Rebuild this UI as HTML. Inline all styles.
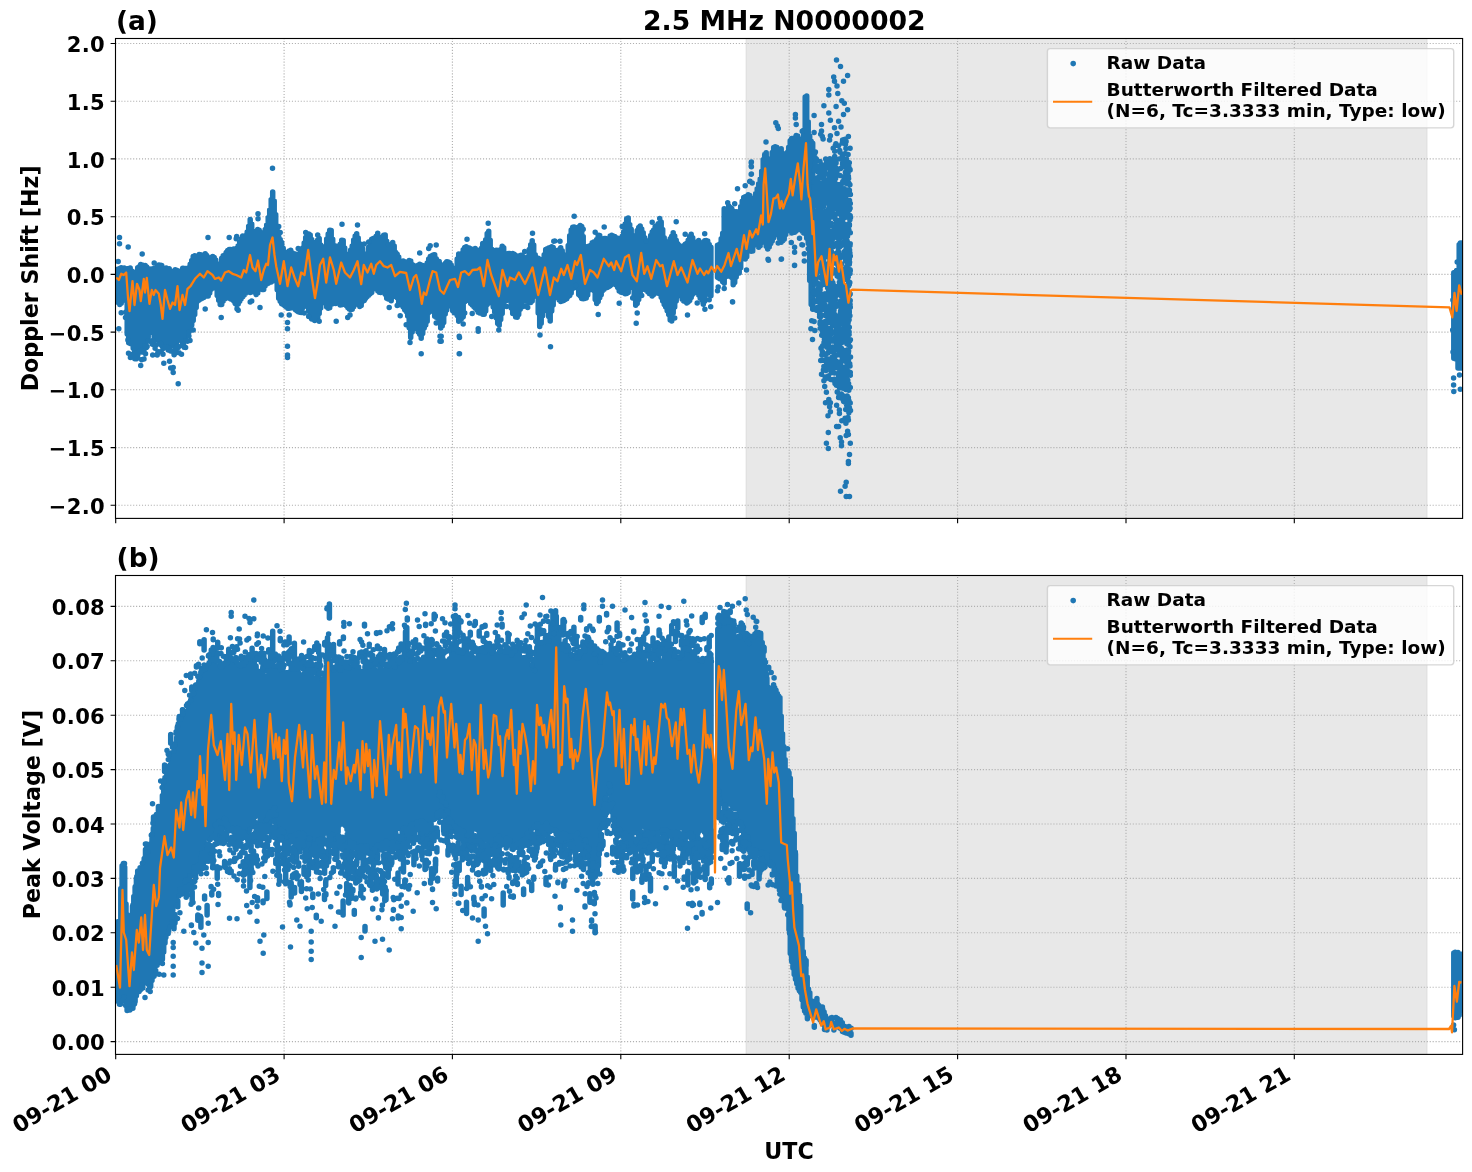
<!DOCTYPE html>
<html lang="en"><head><meta charset="utf-8"><title>2.5 MHz N0000002</title>
<style>html,body{margin:0;padding:0;background:#fff}svg{display:block}</style></head>
<body>
<svg width="1472" height="1172" viewBox="0 0 1472 1172" font-family="'DejaVu Sans', 'Liberation Sans', sans-serif" font-weight="bold" fill="#000">
<defs><clipPath id="ca"><rect x="115.5" y="38.5" width="1347.1" height="479.9"/></clipPath><clipPath id="cb"><rect x="115.5" y="575.5" width="1347.1" height="478.9000000000001"/></clipPath></defs>
<rect width="1472" height="1172" fill="#fff"/>
<g id="panel-a"><rect x="746.2" y="38.5" width="680.7" height="479.9" fill="#e8e8e8"/><path d="M746.2 38.5V518.4M1426.9 38.5V518.4" stroke="#dcdcdc" stroke-width="1" fill="none"/><path d="M284.1 518.4V38.5M452.4 518.4V38.5M620.8 518.4V38.5M789.2 518.4V38.5M957.6 518.4V38.5M1126 518.4V38.5M1294.3 518.4V38.5M115.5 43.5H1462.6M115.5 101.2H1462.6M115.5 158.9H1462.6M115.5 216.7H1462.6M115.5 274.4H1462.6M115.5 332.1H1462.6M115.5 389.8H1462.6M115.5 447.6H1462.6M115.5 505.3H1462.6" stroke="#b0b0b0" stroke-width="1.11" stroke-dasharray="1.11 1.83" fill="none"/><g clip-path="url(#ca)" fill="none" stroke-linecap="round" stroke-linejoin="round"><path d="M118.2 268.9V302.5M119.7 268.5V304.6M121.2 267.8V303.2M122.7 268.8V300.6M124.2 268.1V285.3M125.7 268.9V298.8M127.2 268.8V333.9M128.7 268.5V342.8M130.2 268V343.5M131.7 271.1V341.6M133.2 277.8V348.3M134.7 278V352.4M136.2 271.7V350.3M137.7 267.7V350.5M139.2 266.7V349.2M140.7 264.6V349.6M142.2 265.1V348.2M143.7 266.1V345.9M145.2 265.4V344.5M146.7 267V341.2M148.2 268.8V337.3M149.7 269.6V332.3M151.2 269V331.1M152.7 269.1V332.7M154.2 268.3V336.9M155.7 268.5V338.4M157.2 267.1V339M158.7 265V341.5M160.2 265.3V342M161.7 265.6V343.2M163.2 268.7V344M164.7 269.1V345.4M166.2 267.9V346M167.7 269.1V346.5M169.2 268.7V346M170.7 271V346M172.2 272.4V345.9M173.7 272.7V344.8M175.2 269.7V343.6M176.7 270.2V342.4M178.2 275.7V338.3M179.7 275.4V338.5M181.2 270.7V340.6M182.7 268.2V341.5M184.2 268.5V340M185.7 268.6V336.9M187.2 268.5V329.4M188.7 267.8V323.3M190.2 264.2V329.1M191.7 260.4V325.2M193.2 256.4V320.4M194.7 255.8V314.6M196.2 256.4V307.6M197.7 257.3V300.9M199.2 254.5V300.1M200.7 254.8V299.1M202.2 255.8V298.3M203.7 255.9V297.5M205.2 253.8V295.1M206.7 255.4V295.9M208.2 261.4V296.1M209.7 262.8V293M211.2 257.4V289.3M212.7 256.4V285.6M214.2 257.5V286.5M215.7 260.1V288M217.2 268.1V295.4M218.7 268.7V300.3M220.2 263.5V304.4M221.7 258.2V304.5M223.2 255.8V300.9M224.7 255.1V299.1M226.2 252.6V296.5M227.7 250.5V295.6M229.2 249.5V298.2M230.7 249.6V299.1M232.2 249.7V299.6M233.7 249V300.9M235.2 249.6V303.4M236.7 248.3V304.8M238.2 245.7V304M239.7 242.1V301.2M241.2 238.8V298.8M242.7 236.1V296.7M244.2 237.1V295.1M245.7 235.6V293.2M247.2 232.1V292.2M248.7 226.3V291.1M250.2 219.6V292.5M251.7 223.9V291.7M253.2 231.8V291.3M254.7 232.6V292.3M256.2 231.6V294.5M257.7 229.4V292.9M259.2 230.3V286.2M260.7 232.6V284.8M262.2 236.6V289.4M263.7 233.6V289.6M265.2 229.4V285.8M266.7 224.9V284.1M268.2 217.6V283.2M269.7 210V281.7M271.2 199.6V282M272.7 191.9V281.1M274.2 201.1V276M275.7 214.5V278.1M277.2 230V289.8M278.7 236.5V298.3M280.2 239.6V301.3M281.7 242.6V303.7M283.2 248.3V304.4M284.7 251.9V305.7M286.2 252.8V306.7M287.7 253.1V308.3M289.2 250.9V308.2M290.7 250.2V307.9M292.2 252.7V306.9M293.7 254V306.7M295.2 254.1V309.4M296.7 255.4V310.8M298.2 254.4V311.7M299.7 253.3V312.2M301.2 250.5V312.4M302.7 248.1V307.7M304.2 242.9V302.3M305.7 237.6V301.7M307.2 235.9V306.6M308.7 234V311.3M310.2 234.9V315.9M311.7 239.4V318.9M313.2 245.3V319M314.7 244.4V320.6M316.2 242.2V319.5M317.7 240.1V317.9M319.2 238.6V313.5M320.7 244.9V307.9M322.2 254.4V299.1M323.7 258.1V297.9M325.2 246.5V303.1M326.7 239.1V307M328.2 234V308.2M329.7 230.2V307.8M331.2 230.4V304.3M332.7 239.2V303.7M334.2 245.4V303M335.7 246.1V303.5M337.2 247.8V301.9M338.7 250.1V301.8M340.2 244.2V305.1M341.7 240.2V304.8M343.2 240.6V303.2M344.7 248V304.1M346.2 258V305.4M347.7 259.1V307.6M349.2 254V309.1M350.7 249.9V309.7M352.2 245.9V309.3M353.7 240.1V306.7M355.2 236.1V303.3M356.7 233.8V301.9M358.2 237.9V304.4M359.7 243.8V306.5M361.2 246.3V305.6M362.7 248.4V301.2M364.2 255.9V300.6M365.7 258.3V298.2M367.2 253.7V296.5M368.7 247.3V295.2M370.2 243.6V293.8M371.7 239.2V292.6M373.2 238.6V288.2M374.7 240.2V286.5M376.2 236.2V288.9M377.7 233.3V290.8M379.2 237.1V292.3M380.7 239.9V292.4M382.2 238.2V289.1M383.7 235.3V289.4M385.2 235.1V294.3M386.7 241.3V298.2M388.2 251.4V299.1M389.7 251.7V299M391.2 246.1V300.8M392.7 242.6V296.8M394.2 246.1V290.2M395.7 252.4V289.2M397.2 254.3V297.7M398.7 257V303.9M400.2 263.1V304.7M401.7 264.5V304.8M403.2 261V306.9M404.7 261.7V309.7M406.2 263.3V311.4M407.7 264.3V316M409.2 260.4V327.8M410.7 260.9V337.4M412.2 264.4V331.9M413.7 266.5V327.5M415.2 265.9V325.7M416.7 266.1V328.7M418.2 265.2V332.1M419.7 264.2V334.2M421.2 265.3V338.3M422.7 265.4V333.6M424.2 266.5V328M425.7 266.4V325.1M427.2 263V321.2M428.7 259.1V312.4M430.2 256.6V302.8M431.7 255.8V302.9M433.2 255.1V311.4M434.7 254.7V316.2M436.2 258.7V317.2M437.7 262.2V318.3M439.2 261.4V320.2M440.7 264.7V328M442.2 266.7V326.1M443.7 267.1V322.6M445.2 263.6V314.1M446.7 261.8V310.1M448.2 261.9V299.8M449.7 262.8V294.7M451.2 265.1V306.3M452.7 267.9V310.7M454.2 272.5V312.7M455.7 270V311.1M457.2 259.1V315.5M458.7 253.9V321.2M460.2 254.6V320.3M461.7 253.6V318.4M463.2 249.8V316.8M464.7 247.5V301.7M466.2 246.8V298.6M467.7 248.1V299.6M469.2 248.1V300.7M470.7 248.8V303.4M472.2 250.5V305M473.7 249.6V306.4M475.2 248.6V308.2M476.7 250.3V309.8M478.2 255.5V312.3M479.7 255.4V313.1M481.2 248.6V313.2M482.7 243.4V314.3M484.2 243.2V314.3M485.7 239.8V311.1M487.2 233.5V304.4M488.7 231.2V299.8M490.2 240.2V297.2M491.7 249.2V302.9M493.2 254.1V307M494.7 252.9V312.3M496.2 250.2V317.7M497.7 250.6V323.5M499.2 251.4V325.2M500.7 249.6V319.5M502.2 246.2V313.4M503.7 247.8V306.3M505.2 253.7V300.9M506.7 255.7V300.4M508.2 253.6V296.6M509.7 253.4V299.6M511.2 253.9V308.1M512.7 253.6V313.6M514.2 254.3V313.2M515.7 255.4V317M517.2 256.2V317.3M518.7 256.1V314.4M520.2 255.6V309.2M521.7 255.3V304.1M523.2 256.5V300.8M524.7 259.3V300.8M526.2 261.1V298.7M527.7 257.3V299.6M529.2 249.6V302.8M530.7 244.8V302.6M532.2 240.7V301M533.7 245.1V295.7M535.2 254.7V288.9M536.7 257.9V296.5M538.2 258.3V313M539.7 259.3V326.4M541.2 264.4V323.3M542.7 262.9V315.8M544.2 254.7V309M545.7 249.5V306.6M547.2 248.8V310.8M548.7 247.9V316.4M550.2 247.7V320.9M551.7 246.8V310.9M553.2 247.5V305M554.7 249.9V297.3M556.2 254.5V296.1M557.7 255V298M559.2 249.7V299.9M560.7 247.7V301.5M562.2 250.8V301M563.7 254.8V300.5M565.2 263.3V299.5M566.7 258.4V298.7M568.2 245.5V296.5M569.7 235.8V295.5M571.2 230.1V292.9M572.7 227.3V288.4M574.2 226.9V277.7M575.7 231.2V277.9M577.2 230.5V288.1M578.7 226.9V294.4M580.2 225.4V296M581.7 226.4V298.4M583.2 236.4V298.8M584.7 247.2V298.4M586.2 247.2V298M587.7 246.5V295M589.2 247.7V289.9M590.7 245.3V287.9M592.2 242.7V288.1M593.7 242.1V290.6M595.2 242.6V299.4M596.7 239.5V303.4M598.2 235.3V301.4M599.7 235.6V297.7M601.2 239V294.8M602.7 242.3V290.5M604.2 238.5V289.3M605.7 238.4V287.8M607.2 239.2V287.6M608.7 238.5V286.7M610.2 236.1V285.7M611.7 235.2V284.6M613.2 235.9V282.4M614.7 236.5V282.3M616.2 238.7V285M617.7 238.2V287.6M619.2 239.2V290.9M620.7 238.4V292.1M622.2 236.3V292.5M623.7 231.8V292.2M625.2 224V293.7M626.7 218.7V293.6M628.2 218.1V292.6M629.7 224.6V287.7M631.2 229.2V282.6M632.7 235.6V286.7M634.2 237.4V296.8M635.7 236V305.2M637.2 230.5V303.4M638.7 227.4V299.6M640.2 226V292.9M641.7 229V288.9M643.2 232.8V288.7M644.7 237.7V289.5M646.2 247.9V290.3M647.7 250.2V291.7M649.2 240.9V293.4M650.7 235.4V294.2M652.2 232.1V295.9M653.7 229.9V294.5M655.2 226.6V290.9M656.7 225.7V290.8M658.2 223.8V293.3M659.7 223.8V293.4M661.2 222.1V297.2M662.7 229.6V301.1M664.2 237.8V304.4M665.7 245V307.1M667.2 245.3V310.8M668.7 241.5V314.5M670.2 238.7V320.1M671.7 236.2V321M673.2 232.7V313.1M674.7 235.9V306.9M676.2 240.3V301.1M677.7 243.7V296M679.2 245.4V293.6M680.7 248.2V294.7M682.2 247.6V299.3M683.7 245.8V300.9M685.2 244.2V301.4M686.7 243.2V303.1M688.2 240.3V302M689.7 236.4V300.4M691.2 234.2V297.5M692.7 237.7V294.3M694.2 245.6V292.7M695.7 247.6V291.3M697.2 241.9V293M698.7 240.5V295.1M700.2 244.1V298.3M701.7 244.2V300.1M703.2 242.4V302.8M704.7 240.7V301.2M706.2 240.6V291.2M707.7 241.1V288.9M709.2 244.5V294.6M710.7 248.1V295.3M718.2 246.8V277.7M719.7 244V278.7M721.2 238.7V278M722.7 233.3V281.7M724.2 208.8V283.2M725.7 213.4V276.8M727.2 211.3V273.4M728.7 206V276M730.2 207.4V273.5M731.7 208.4V277.4M733.2 211.1V284.8M734.7 212.7V282.5M736.2 211.7V277.1M737.7 211.9V273.3M739.2 211.5V272.9M740.7 206.6V267.8M742.2 201.2V257.8M743.7 197.5V255.3M745.2 196.7V259.1M746.7 196.7V256.8M748.2 194.7V247.3M749.7 195.5V245.6M751.2 198V251.3M752.7 199.5V251.1M754.2 200.2V241.6M755.7 193.5V239.7M757.2 188.7V245.2M758.7 183.8V247.2M760.2 178.9V245.7M761.7 171.2V242.4M763.2 159.5V241M764.7 154.5V242.3M766.2 152.7V246.2M767.7 158.7V249M769.2 169.4V247.1M770.7 169.3V243.6M772.2 152.6V241M773.7 147.6V237.8M775.2 146.7V235M776.7 147.3V231.9M778.2 150V233.3M779.7 151.2V238.8M781.2 148.8V242.2M782.7 153.6V240.8M784.2 160.2V239.2M785.7 159V234.5M787.2 152.6V226M788.7 147.3V225.7M790.2 140.8V231M791.7 138.4V233.1M793.2 138.9V232.6M794.7 137.7V232.2M796.2 135.5V230.9M797.7 136V229.5M799.2 138.7V228.6M800.7 139.4V229.7M802.2 140.5V231.2M803.7 130.2V233M805.2 97.1V233.6M806.7 95.9V238.3M808.2 121.8V243.6M809.7 136.1V280.4M811.2 141.2V304.4M812.7 143.2V309.2M710.9 247.2V295.7M717.5 245.3V277.2M1453.8 272.8V358.2M1455.2 274.6V358.8M1456.6 270.5V358.3M1458 273.5V368M1459.2 244.6V368M1460.4 242.9V368M1461.8 243V368" stroke="#1f77b4" stroke-width="5.5"/><path d="M119.5 237.5h0M119.5 243.8h0M128.2 247h0M118.8 328.8h0M208 237.5h0M229.2 237.5h0M236.2 238.8h0M258 213.8h0M258 218.8h0M272.5 168.2h0M342 224.2h0M357.5 225h0M436.2 245h0M163.8 363.2h0M173.2 367.5h0M173.2 372.5h0M178.2 383.8h0M169.5 361.2h0M190 340.5h0M193.2 330h0M221.2 317.5h0M237 308.8h0M260 307.5h0M281.2 315h0M287.5 322.5h0M287.5 328.8h0M287.5 346.2h0M287.5 355h0M287.5 357.5h0M336.2 321.2h0M350 315h0M389.2 307.5h0M421.2 353.8h0M441.2 336.2h0M441.2 341.2h0M459.2 353.8h0M459.2 336.2h0M410 342.5h0M467 239.2h0M488.2 223.2h0M532.5 233.2h0M553.8 241.2h0M560 241.2h0M574.2 216.2h0M676.2 221.8h0M440 336.2h0M440 341.2h0M459.5 337.5h0M459.5 353.8h0M478.2 328.8h0M478.2 331.2h0M540 335h0M550.5 346.8h0M636.2 323.2h0M687.5 315h0M732.5 301.8h0M498.8 330h0M737.5 188.8h0M751.2 162.5h0M751.2 166.2h0M751.2 174.2h0M750 181.2h0M768 259.2h0M781.2 259.2h0M794.5 265.5h0M802.5 245h0M727.7 202.7h0M737.5 188.8h0M751.4 161.9h0M751.4 166.8h0M751.4 174.1h0M749.7 181.5h0M752.2 183.1h0M766 142h0M775.8 122.8h0M777.4 126h0M778.3 128.5h0M795.4 114.6h0M795.4 117.9h0M796.2 124.4h0M814.1 115.4h0M814.1 132.6h0M821.5 124.4h0M821.5 130.9h0M822.3 136.6h0M823.9 105.7h0M828.8 89.4h0M828.8 95.1h0M828.8 113h0M830.4 120.3h0M833.7 77.1h0M834.5 81.2h0M836.5 60h0M840.5 66.5h0M843.5 81.2h0M847.6 75.5h0M837 86.1h0M837.8 93.4h0M841.8 100.8h0M844.3 103.2h0M847.6 109.7h0M843.5 114.6h0M836.1 106.5h0M838.6 121.2h0M841 126.9h0M834.5 127.7h0M837 133.4h0M848.4 136.6h0M830.4 135.8h0M829.6 139.9h0M835.3 145.6h0M820.7 134.2h0M823.1 139.1h0M704.9 309.2h0M703.3 304.3h0M732.6 301.9h0M746.5 270.1h0M768.5 260.3h0M781.5 259h0M791.3 242.4h0M794.6 247.3h0M794.6 252.2h0M794.6 265.2h0M804.3 253.8h0M804.3 261.1h0M811.7 320.7h0M810.9 328.8h0M812.5 339.4h0M814.1 321.5h0M814.9 330.4h0M799.5 238.3h0M801.9 244.8h0M828.3 432.4h0M826.4 443.2h0M828.3 448.4h0M840.2 437.8h0M841.5 441.9h0M841.5 445.7h0M838.6 426.4h0M836.6 426.4h0M847.6 431.3h0M848.4 434.6h0M846.2 435.4h0M850.3 443.2h0M849.5 454.5h0M848.4 461.5h0M848.4 463.4h0M846.2 482.3h0M845.1 486.2h0M840.5 491.3h0M846.2 496.5h0M849.5 496.5h0M826.4 392.2h0M828.8 399.5h0M825.5 402.8h0M830.4 402.8h0M829.6 406.8h0M830.4 411.7h0M828 415.8h0M836.6 405.2h0M839.4 410.1h0M839.4 413.4h0M846.7 405.2h0M848.4 410.1h0M845.1 418.3h0M841.8 420.7h0M848.4 419.9h0M845.9 423.2h0M820.7 360.4h0M821.5 374.2h0M823.9 380.8h0M824.7 386.5h0M118.2 261.4h0M121.2 312.7h0M123.7 298.1h0M125.7 312.2h0M125.5 317.5h0M127.9 340.1h0M128.5 353.3h0M130.6 355.9h0M130.4 357.4h0M131 354.9h0M131.9 355.9h0M133.4 355.7h0M132.5 354.3h0M134.8 358.7h0M134.9 354.8h0M135.6 353.6h0M136.7 358.8h0M137.8 358.1h0M137.9 354.5h0M139.2 351.4h0M140.8 350.5h0M140.7 365.4h0M141.7 359.7h0M141.9 351.9h0M142.2 253.9h0M144 358.9h0M144 351.5h0M145 345.7h0M145.5 353.8h0M147.1 346.6h0M146.4 347.6h0M147.9 341h0M150.2 341.1h0M149.3 341.1h0M151.7 342.5h0M152.4 344.2h0M152.9 340.6h0M152.7 354.9h0M153.7 342.2h0M154.2 263h0M155.1 348.2h0M155.5 345.5h0M157.8 352.8h0M157.2 354.9h0M158.9 351.7h0M160.6 343.5h0M159.9 344.3h0M161.5 351.7h0M162.3 346.4h0M163.1 348.5h0M163 354.2h0M165.1 346.7h0M166.2 346.8h0M168.2 349.9h0M168.3 349.1h0M169.4 348.6h0M169.6 348.4h0M170.6 351h0M170.7 368h0M172 351.3h0M174.1 354.8h0M173.5 352.6h0M174.7 353.8h0M175.6 349.2h0M176.3 347.1h0M177.8 346.2h0M178.2 347.6h0M179.1 352.8h0M181.5 354.2h0M182.5 345.6h0M182.6 344.4h0M183.7 345.4h0M184.1 347.2h0M185.6 347.5h0M186 340.7h0M187.4 341.3h0M189.1 331.7h0M188.9 335.9h0M205.2 309h0M236.7 236.6h0M238.2 310.3h0M250.2 301.9h0M251.7 301.1h0M278.7 226.4h0M280.2 232.5h0M289.2 314.9h0M298.2 248.6h0M304.2 313.1h0M305.7 232.6h0M308.7 316.5h0M317.7 235h0M319.2 321.3h0M347.7 317.6h0M364.2 243.9h0M368.7 242h0M388.2 244.6h0M397.2 305.6h0M400.2 315.8h0M406.2 324.8h0M419.7 253h0M428.7 248.4h0M430.2 245.8h0M436.2 323h0M463.2 324.1h0M464.7 313h0M472.2 313.6h0M491.7 316.6h0M506.7 306.6h0M523.2 306.4h0M524.7 251.6h0M526.2 305.7h0M527.7 307.6h0M554.7 240.9h0M575.7 285.5h0M583.2 229.3h0M595.2 232.2h0M598.2 314.6h0M604.2 227h0M619.2 303.3h0M622.2 226.6h0M632.7 298h0M637.2 313h0M641.7 295.5h0M646.2 240.7h0M652.2 222.3h0M659.7 218.5h0M674.7 318.1h0M685.2 234.3h0M697.2 303.1h0M704.7 233.7h0M709.2 299.7h0M710.7 306.7h0M718.2 287.1h0M724.2 288.5h0M734.7 203.7h0M745.2 185.8h0M778.2 243h0M802.2 131.2h0M808.2 248.8h0M814.7 258.1h0M814 301.7h0M814.8 167.5h0M813.7 276.7h0M814 279.7h0M813.7 222.1h0M814.8 284.3h0M813.6 244.9h0M813.8 197.5h0M813.5 292.5h0M814.2 170.7h0M814 239.2h0M813.5 201.6h0M814 239.5h0M813.7 308h0M813.9 255h0M814.2 188.1h0M814.3 186.2h0M814.9 230.9h0M814.3 309h0M814.6 271.8h0M814.4 248.6h0M813.9 203.2h0M814.6 193.2h0M814.2 266.5h0M814 249h0M814.1 234.7h0M813.9 152.3h0M813.8 203.9h0M813.7 181.6h0M814.1 218.3h0M813.9 237.8h0M813.9 170.5h0M814.5 194h0M814.9 234.8h0M814.8 199.4h0M813.6 240.2h0M816.4 242.5h0M816.1 206.1h0M816.3 217.7h0M816.3 159.1h0M815.3 193h0M815.4 151.9h0M815.3 262.6h0M815.3 213.1h0M816.2 246.1h0M815.2 253.4h0M816.4 267.4h0M815.1 245.8h0M815.2 203.6h0M816.3 178.7h0M816.3 252.1h0M816.1 182.6h0M815.6 253.6h0M815.5 258.5h0M815 157.5h0M815.5 249.9h0M815.8 228.5h0M815 189.9h0M815.9 308.6h0M815.4 265.8h0M815.2 163.3h0M816.2 272.8h0M815.8 216.9h0M815.8 243.8h0M815.9 255h0M816.1 201.9h0M816.1 190h0M816.1 274.2h0M815.7 193.3h0M815 301h0M815.9 225.4h0M816.4 273.9h0M815.1 185.2h0M815 152.7h0M816.7 240.3h0M816.7 301.4h0M817.8 180.2h0M817.6 177.8h0M817.4 231.3h0M817.7 206.7h0M816.9 225.2h0M817.6 295.6h0M817.7 215.9h0M817.8 217.2h0M816.8 187.7h0M816.8 221h0M817.4 184.3h0M817.9 199.5h0M816.7 186.5h0M817.6 194.5h0M816.9 282.8h0M817.8 229.2h0M817.3 177.7h0M817.3 224h0M817.8 292.4h0M817.6 209.3h0M817.7 289.3h0M816.5 310.2h0M817.5 167.5h0M817.8 166.4h0M817.8 265.9h0M816.8 307.7h0M816.5 277.9h0M816.8 232.3h0M816.6 220.5h0M819.3 309.8h0M818.2 172.1h0M818.2 220.9h0M818.2 261.5h0M818.1 269.9h0M818.7 209h0M818.3 298.4h0M818.4 268.8h0M818.1 181.1h0M818.8 217.6h0M818 210.4h0M818.9 262h0M818.8 239.1h0M819.4 262.3h0M818.4 216.2h0M819.4 219.4h0M818.5 214.3h0M818.2 217.9h0M818.9 311h0M818.9 299.6h0M818.3 212.7h0M819.2 184.4h0M818.9 204.4h0M818.4 239.9h0M819.1 306.8h0M818.8 288.1h0M818.9 310.5h0M819 270.7h0M818.7 215.3h0M819 250h0M818.9 204h0M818.3 239h0M818.3 250h0M819 296.9h0M818.7 235.7h0M820.2 257h0M820.7 256.7h0M819.7 199.9h0M820.4 314.7h0M820 323.8h0M819.6 316.7h0M819.6 183.2h0M820.7 223.1h0M820.1 255.5h0M820.9 170.2h0M820.1 289.7h0M820.6 247.1h0M819.7 302.3h0M820 286.8h0M819.8 255.4h0M820 225.9h0M819.5 227.9h0M819.5 192.4h0M819.9 188h0M819.8 216.7h0M820.4 317.1h0M820.1 322h0M820 308.9h0M820 161.5h0M819.9 293.2h0M820.4 233.2h0M820 312.5h0M820.8 266.8h0M820 293.1h0M819.9 283.9h0M820.2 227.6h0M820.8 250.7h0M819.5 301.9h0M820.1 269.6h0M820.7 243.9h0M820.2 234.6h0M820.2 328.2h0M820.7 253.6h0M820.6 284.9h0M819.5 232h0M820.3 286.7h0M820.6 304.3h0M819.6 176.1h0M819.6 313.9h0M820.3 301.2h0M822 297.4h0M821 255.2h0M821.6 299.6h0M822.4 276.8h0M821.2 326.4h0M821.7 223.6h0M821.3 210.9h0M821.3 219.1h0M821.7 335.3h0M821 241.9h0M822.3 217.2h0M821.3 323.2h0M821 195.4h0M821.5 266.7h0M821.7 251.3h0M821.5 276.7h0M821.3 323.1h0M821 348.2h0M821.7 219.3h0M821.8 239.5h0M821.4 221.3h0M821.4 322h0M822.2 303.7h0M821.6 278.5h0M822.3 351.5h0M821.9 164.7h0M821.8 190.7h0M821.7 323h0M822 295.9h0M821.3 215.2h0M822.3 331h0M821.1 196.4h0M821.9 354.9h0M822.3 207.2h0M821.2 298.5h0M821.3 214.9h0M821.4 276.4h0M821.2 271.8h0M822.2 346.6h0M822.4 184.7h0M821 235.8h0M821.9 233.3h0M821.8 199.9h0M822 172.3h0M822 243.9h0M822.9 360.3h0M823.6 229.1h0M823.8 262h0M823.7 172.5h0M823.3 284.5h0M822.9 171.5h0M823.8 202.3h0M823.9 366.5h0M822.5 297.5h0M823.1 225.8h0M823.6 206.8h0M822.9 191.5h0M822.6 167.3h0M823.6 274.2h0M823.1 284h0M822.6 173.4h0M823 280.1h0M823.4 235h0M823.9 188.2h0M823.7 225.4h0M822.7 345.7h0M823.3 177.8h0M822.7 177.9h0M823.2 270.7h0M822.7 233.3h0M822.8 241.4h0M823.8 180.1h0M823.8 263.2h0M823.6 260.2h0M823.5 278.4h0M823.6 202.7h0M822.5 186h0M823.2 239.1h0M823.8 216.6h0M822.8 170.6h0M823.6 283.9h0M822.5 309.6h0M823.3 206.4h0M823.4 370h0M823.7 305.4h0M823.7 227.8h0M823.8 254.3h0M823.1 243.3h0M823.6 171.4h0M822.7 302.5h0M822.7 228.3h0M822.8 195.8h0M823.9 225.3h0M824.7 332.1h0M825.1 264.9h0M824.2 296.7h0M825.2 294.1h0M824.1 331h0M824.5 315.2h0M825.1 305h0M825.2 321.5h0M824.8 334.6h0M825.2 250.8h0M825.3 330.5h0M825.4 219.6h0M825.4 272.8h0M824.3 331.2h0M824.2 342.8h0M824.3 255.9h0M825.3 263.9h0M825 307.9h0M825.1 240.9h0M825 332.6h0M824.1 244.1h0M825.2 300.4h0M824.8 228.9h0M824 342.4h0M824 263.1h0M824.9 247h0M824.5 255.8h0M824.5 200.2h0M824.4 344.2h0M825 171.5h0M824.9 252.3h0M824.1 335.7h0M824 307.3h0M824.4 339.3h0M824.3 370.1h0M825.3 354.6h0M824.7 241.4h0M825.2 377.1h0M824 188.4h0M824.6 191.4h0M824.3 336.2h0M824.1 231.8h0M825.2 277.6h0M824.5 268.7h0M824.1 303.5h0M824.6 293.9h0M824.9 370.1h0M826.2 238.4h0M826.8 308.4h0M826 266.9h0M826.7 378.2h0M826.3 310h0M826.6 255.1h0M826.6 358.4h0M825.7 159h0M826.3 184.5h0M826.6 161.7h0M825.9 300.2h0M825.9 328.4h0M826.1 277.6h0M826.5 338.3h0M826.9 239.5h0M826.5 316.1h0M825.7 215.5h0M826.7 284.8h0M826 335.7h0M826.8 183.4h0M825.7 188.6h0M825.5 223.5h0M826 220.2h0M825.9 194.4h0M825.9 370.6h0M825.6 252.9h0M826 211.5h0M826.9 240.6h0M825.8 213h0M826.7 362.5h0M826.6 299.2h0M825.7 224.2h0M826.2 327.2h0M826.5 281h0M825.9 326.1h0M826.8 235.3h0M825.9 274.1h0M825.8 297.6h0M825.5 330.5h0M826 343.4h0M825.8 369.7h0M826.6 167.1h0M826.1 308.8h0M825.6 339h0M826.4 222.3h0M826.6 312h0M826.9 242.7h0M826 323.8h0M826.7 242.3h0M825.7 232.3h0M826.2 353.8h0M826.8 306.7h0M825.5 182h0M828.2 268.2h0M827.8 307.1h0M827.8 245.1h0M828.2 214.6h0M828.2 335.5h0M828.1 185.8h0M828.3 267.9h0M828.3 343.1h0M828 181.2h0M827.4 294.1h0M827.3 343.9h0M827.1 202.9h0M828.4 309.1h0M827.5 338.7h0M827.1 314.6h0M827 347.2h0M827.2 298.1h0M827 214.9h0M827.8 255h0M827 339.9h0M827.3 344.6h0M827.5 298.1h0M827.8 228.1h0M828.1 201.5h0M828.2 199.4h0M827.8 340.2h0M827 249.9h0M828 298.3h0M827.6 287.7h0M827.8 270.6h0M828.3 203.5h0M828.4 376.1h0M827.2 167.1h0M828 256.9h0M827.6 316.7h0M827.2 230.6h0M827.4 244.9h0M828.1 196h0M827.6 271.6h0M828 196.8h0M827.3 196.5h0M828 281.9h0M828 320h0M827 165.1h0M827.9 353.1h0M827.5 212.3h0M828.4 188.8h0M827 222.1h0M828.3 191.5h0M827.6 339.2h0M827.2 174.3h0M829.9 261.2h0M829.7 262.4h0M829.3 180h0M828.8 269.9h0M828.5 209.3h0M829.5 253h0M829.7 240.6h0M828.5 348.9h0M829.3 200.3h0M828.5 239.3h0M829.1 346.3h0M828.6 276.1h0M829.4 226.2h0M829.4 359.3h0M828.8 198.3h0M828.6 364.1h0M828.6 289.6h0M829.1 196.9h0M829.4 288.3h0M829.1 317.1h0M829.1 162.3h0M829.5 309h0M829.4 206.4h0M829.2 313.5h0M828.5 291.5h0M829.9 206.1h0M829 203.8h0M829.7 336.3h0M829.6 299.7h0M829.9 158.7h0M828.5 339.7h0M829.8 161.1h0M829.5 201.6h0M828.7 367.3h0M828.7 317.8h0M828.7 340.8h0M828.6 270.9h0M829.8 336h0M829.7 366.6h0M829.7 281.3h0M829.4 268.6h0M829.6 290.4h0M829.3 168h0M829 218.5h0M829.1 341.8h0M828.8 178.5h0M828.6 251.2h0M830.5 278.9h0M830.1 351.6h0M830.4 236.1h0M830.2 330.7h0M831.4 293.3h0M830 332.2h0M831 166.1h0M830.7 291.5h0M830.6 257.2h0M830.9 294.4h0M831.3 338.9h0M830 348.6h0M831.2 311.2h0M831.3 251.3h0M831.4 191.2h0M831 253.9h0M830.4 208.6h0M830.4 231.6h0M831.4 170.8h0M831.3 304.7h0M831.2 330.7h0M830.3 213.8h0M830 246.9h0M831.3 203.4h0M831.1 368.6h0M831.3 333.7h0M830.7 338.4h0M830.9 223.2h0M830.8 236h0M830.7 379.4h0M830.8 303.7h0M831.3 372.7h0M831.4 313.3h0M830.4 169.6h0M830.3 365.2h0M831.4 319.5h0M831 190.3h0M831.1 313.5h0M830.3 328.5h0M830 209.7h0M830.3 313.6h0M831.4 210.2h0M830.8 302.2h0M830.8 305.2h0M830.4 314.5h0M830 163.4h0M830.2 234.7h0M831.4 175.1h0M830.4 312.8h0M830.2 332.4h0M830.6 172.1h0M830.6 313.2h0M830.1 322.5h0M831.2 371.4h0M832.7 347.2h0M832.5 340.9h0M831.5 213.7h0M832.8 192.4h0M832.3 184.7h0M831.7 306.6h0M832.9 181.2h0M832.4 239.2h0M831.8 284.4h0M832.7 162.1h0M832.5 234.5h0M831.8 179.9h0M832.2 235.1h0M832.6 173.4h0M832 215.5h0M831.8 331.7h0M831.8 193.4h0M832 239.5h0M832.2 301.8h0M832.4 357.1h0M831.5 349.1h0M831.6 252.6h0M832.5 257.8h0M832.2 169.1h0M832.1 188.5h0M832 175.1h0M832.9 260.1h0M831.6 280.8h0M832.6 200.3h0M832.8 282.8h0M831.8 273.6h0M831.8 187.7h0M832.8 166.5h0M832.5 258.1h0M831.9 164.4h0M832.4 196.1h0M831.6 233.9h0M831.5 190h0M832.2 304.6h0M832.3 325.8h0M832.2 203.1h0M832.4 293h0M832.9 181.5h0M832.7 325.8h0M832.8 235.5h0M831.8 190.4h0M832.8 291.3h0M831.5 166.3h0M831.7 252.8h0M832.6 192.8h0M832.9 287.7h0M832.5 243.8h0M832.2 202.9h0M832.9 270.4h0M834.2 196.1h0M834.4 192.6h0M833.3 255.5h0M833.6 380.2h0M834 227.5h0M833.2 148.3h0M833 347.3h0M833.3 292.8h0M833.8 254.9h0M833.2 318.6h0M833.1 202.1h0M833.2 380h0M833.8 271.7h0M833.3 361.8h0M833.6 184h0M834.3 243.7h0M834.2 306.2h0M834.4 379.2h0M833 243.4h0M833 368.8h0M833.4 214.2h0M833.7 246.5h0M833.9 352.5h0M833.1 269.4h0M833.9 202.9h0M834.2 287.6h0M833.1 190.3h0M833.2 364.5h0M833.3 313.7h0M833.5 201.1h0M834 272.1h0M833.7 297h0M834.1 308.8h0M834 310.2h0M833.2 302.7h0M833.6 200.2h0M833.6 379.4h0M834.1 200.1h0M833.9 231.6h0M833.1 332.2h0M833.3 197.7h0M833 208.4h0M833.6 176.3h0M834.4 161.9h0M833.5 285.3h0M833.6 316.8h0M833.7 186h0M834.4 182.4h0M834.2 332.2h0M833.9 301.4h0M834.4 316.9h0M834.1 191.2h0M833.3 217h0M835.7 290.4h0M834.7 359.5h0M834.9 321.8h0M834.7 156.5h0M834.5 314.3h0M834.8 196.9h0M835.9 318.1h0M835.9 143.8h0M835 383.4h0M834.9 270.6h0M835.2 244.1h0M834.5 204.1h0M834.6 160h0M835.5 296.2h0M835.6 205.2h0M835 322.6h0M834.7 262.9h0M834.5 373.1h0M835 177.7h0M834.8 319.6h0M835.7 339.8h0M834.7 162.6h0M835.7 317.3h0M834.8 338.3h0M835.3 162.4h0M835.3 173.7h0M834.8 166.1h0M835.1 204.1h0M835.5 273.3h0M834.9 194.6h0M835.5 300.2h0M835.8 293.8h0M834.9 190.5h0M834.8 305.9h0M835.6 178.6h0M835.5 347.3h0M834.9 217h0M834.5 320.7h0M834.6 292.5h0M834.7 151.3h0M834.7 255.3h0M835.2 169h0M835.5 230.4h0M835.6 272.3h0M835 165.7h0M834.8 260.8h0M834.8 307.4h0M835.2 219.1h0M835.6 318.4h0M835.1 232.6h0M834.6 294.9h0M835.4 253.8h0M834.5 209.1h0M835.4 171.4h0M834.6 214.5h0M836.6 336.5h0M836.1 163h0M836.4 385.3h0M836.2 335.7h0M836.2 168.3h0M837.2 276h0M836.2 184.1h0M836.6 335h0M836.1 226.9h0M837.4 202.8h0M837.1 170.9h0M837.4 261h0M836.4 294.2h0M837 259.1h0M836.1 327.1h0M837.4 190.4h0M836.3 227.1h0M836.7 205.9h0M837.2 392.1h0M836.2 222.7h0M836.5 329.9h0M836.6 188.8h0M837.2 349.3h0M836 286.9h0M836.9 334.6h0M837.2 224.1h0M836.3 348.6h0M836.5 233.9h0M836.5 230.7h0M837.3 169.2h0M836.9 245.3h0M836.3 366h0M837.2 332.4h0M836.9 205.4h0M837.2 237.7h0M836.5 175.1h0M836.5 349.1h0M837.3 355h0M837 329.7h0M836 306.5h0M836.6 361.6h0M837.1 227.2h0M837.3 339.4h0M836.5 195.5h0M836.1 204.4h0M836 224.1h0M836.3 343h0M837.1 159.2h0M836.6 191.6h0M837.2 243.1h0M836.9 382.9h0M837.3 367.8h0M836.4 327.1h0M836.1 362.6h0M837.2 290.1h0M836.7 272.6h0M837.8 367.9h0M838 236.3h0M838.5 254.1h0M837.6 253.3h0M838.7 277.3h0M838 344.6h0M838.6 200.8h0M837.8 347.9h0M838 254.4h0M838.8 324.6h0M837.9 195.5h0M838.5 227.9h0M838.3 191.8h0M838.5 271.4h0M837.7 346.2h0M838.6 375.4h0M838.8 364.8h0M837.5 197h0M838.8 271.9h0M838.8 274h0M837.7 286.5h0M838.7 304.6h0M838.4 251.9h0M837.9 210.1h0M838.2 251h0M837.6 263.2h0M838.5 145.8h0M837.8 334.3h0M838.2 209.2h0M838.4 188.9h0M838.3 373.9h0M838.6 327.3h0M838.5 325.1h0M838.7 213.5h0M838.9 379.2h0M837.6 256.7h0M837.7 316.4h0M838.4 261.1h0M838.6 397.6h0M837.7 206.6h0M838.4 185.3h0M837.7 221.3h0M837.6 199.8h0M837.9 193.4h0M837.7 272.4h0M838.1 266.1h0M837.7 384.2h0M837.7 294.6h0M837.6 187.3h0M838.9 322.4h0M838 246.8h0M838 252.3h0M838 319.7h0M839 365.8h0M839.5 362h0M840.3 305.6h0M839.6 246.9h0M839.8 220.3h0M840.1 314h0M839.5 387.7h0M839.8 362.5h0M839.5 317.7h0M839.6 386.5h0M839.1 190.5h0M839.7 150.5h0M839.5 271h0M839.7 373.7h0M839.4 266.2h0M839.9 243.1h0M839.3 345.7h0M839.5 238.9h0M840.3 236.9h0M839.4 282.2h0M840.2 229.1h0M839 184.8h0M839 193.3h0M839.2 350.7h0M839 202.2h0M840.1 211.4h0M840.3 328.7h0M840.3 387.1h0M839.2 255.2h0M840.2 335.9h0M839.1 242.8h0M839.8 368h0M839 394.7h0M840 175.6h0M839.1 305.6h0M839.9 185.3h0M840.4 316.5h0M840.4 236.3h0M839.5 255.3h0M839.3 208.7h0M839.2 325.1h0M839.2 189.9h0M840.1 233.9h0M840 158.8h0M840.1 152.2h0M839.6 291.6h0M839.5 370.2h0M840.4 245.4h0M839.2 287.8h0M839.5 188.6h0M839 321.2h0M840.1 349.8h0M839 276h0M839.6 348.8h0M839.8 315.7h0M839.6 330.9h0M839.4 382.4h0M841.8 211.8h0M841.6 348.4h0M841.9 356h0M840.9 321.2h0M840.8 339.4h0M840.7 301.1h0M840.9 365.5h0M841.8 382.6h0M840.7 339.2h0M841.3 340.3h0M841.1 378.5h0M841.6 385.3h0M840.6 168.5h0M841.5 369.1h0M841.5 208.6h0M840.6 311h0M841.5 270.5h0M841.4 197.6h0M841 214.2h0M841.7 290.9h0M841.1 339.6h0M841.9 367.1h0M840.6 265h0M840.7 337.2h0M840.5 319h0M840.6 334.9h0M841 307.9h0M841.7 206.6h0M841.1 374.8h0M841.5 264.1h0M841 332h0M840.7 385.1h0M840.6 354.3h0M841.2 190.2h0M840.7 229.4h0M841.6 384.4h0M841.8 206.9h0M841.8 199.4h0M841.9 301.6h0M841.4 342.9h0M841.7 280.8h0M840.6 257.4h0M841.6 319.7h0M841.1 202.2h0M841.9 356.5h0M841.5 382.6h0M841.1 286.3h0M840.7 185.4h0M841.2 264.4h0M841 211.5h0M841.6 286.3h0M840.7 295.5h0M841.9 372.9h0M841.3 397.9h0M841.3 394h0M840.5 223.6h0M840.6 195h0M841.4 215.8h0M843.4 235.7h0M842.8 307.7h0M842.5 368.3h0M842.4 299.9h0M843.4 396.5h0M842.8 156.7h0M842.7 194.2h0M843 317h0M843 319.4h0M842.6 140.1h0M842.8 396.5h0M843.2 378.9h0M842.2 143.1h0M842.1 360.2h0M843.3 386.7h0M842.4 276.3h0M843 395.8h0M843.1 399.7h0M842.2 211.3h0M842.9 236.2h0M842.2 312.8h0M842.8 332.1h0M843.3 234.8h0M842.2 207.2h0M842.8 181.5h0M842.2 351.9h0M842.8 272.9h0M842.6 288.2h0M842 283.7h0M842.3 155h0M842.3 340.2h0M842.3 358h0M842.5 164.2h0M843.1 228.6h0M843 198.5h0M842.6 360.9h0M843.3 273h0M842.2 299.7h0M842.4 158h0M842.6 163.2h0M842.7 221.4h0M842.2 387.9h0M842.4 220.6h0M842.6 380.8h0M842 183.6h0M842.2 311.4h0M842 305.3h0M842.5 274h0M843 166.8h0M842.2 275h0M842.6 317.1h0M842.1 314.9h0M842.3 378.9h0M842.2 245.2h0M843.4 162.9h0M842.3 228.4h0M842.3 317.4h0M844.1 324.5h0M844.3 180.6h0M844.2 165.5h0M844.5 191h0M844.7 272.4h0M844.9 217.4h0M844.2 358.5h0M843.6 176.7h0M844.5 323.7h0M844.9 294.7h0M843.6 354.8h0M843.5 225.5h0M844.5 296h0M844.5 232.5h0M844.5 237.6h0M844.9 213.4h0M843.5 256.8h0M843.7 372.1h0M843.6 374.1h0M844.5 241.3h0M844 139.6h0M844.8 224.5h0M844.7 350.8h0M844.9 297.4h0M844.9 312.5h0M843.7 291.4h0M844.2 278.7h0M844 229.7h0M844.3 276.4h0M843.9 198.7h0M844.2 274.4h0M844.4 251.7h0M844.2 188.7h0M844.6 213.1h0M844.6 328.6h0M843.8 278.3h0M844 388.5h0M844.1 217h0M844.7 329.9h0M844.5 268.9h0M844.1 196.1h0M843.9 235.2h0M844.6 235.6h0M843.8 336.6h0M844.6 201.7h0M844.5 315.3h0M844.5 310.1h0M843.5 212.2h0M843.5 236h0M844.9 319.6h0M843.8 355.8h0M843.6 229.6h0M844.6 353.4h0M844 270.3h0M844.2 211.4h0M844.8 330.9h0M844.1 367.8h0M843.9 252.3h0M843.7 401.6h0M844.8 214.4h0M844.7 368.8h0M845.2 256.5h0M845.5 351.9h0M845.5 259.9h0M845.3 302.9h0M845.5 144.2h0M846.1 141.6h0M846 230.5h0M845.2 311h0M845.4 307.2h0M846.2 193.8h0M845.8 389.6h0M845.4 297.2h0M845.9 148.6h0M845.7 304.7h0M845.4 172.3h0M845.5 253.5h0M846.4 387.6h0M846.2 204.9h0M845.8 205.8h0M845 242.7h0M846.2 358.4h0M846.1 212.9h0M846.4 270.8h0M845.3 153.6h0M846.1 311.1h0M845.8 371h0M846.1 245.5h0M846.1 167.5h0M846.4 260.2h0M845.3 163.7h0M845.1 139.2h0M845.6 240.4h0M845.4 278.7h0M845.7 332.3h0M845.7 409.6h0M845.5 274.9h0M846.3 376.3h0M845.5 237.3h0M845.8 308.3h0M845.1 217h0M845.1 402.3h0M845.7 319.8h0M845.4 229h0M845.5 371.8h0M846.4 253.8h0M845.6 238.2h0M845.9 183.3h0M845.6 322.1h0M845.3 250.6h0M845.6 356.6h0M845.5 368.2h0M845 341.1h0M846.4 199.2h0M846 326.9h0M845.7 275.8h0M845.2 193.1h0M846 316.7h0M845.9 210h0M845.2 176.2h0M845.4 279.2h0M845.2 290.6h0M845.9 272h0M846 175.8h0M845.9 289.3h0M845.8 353.9h0M847.7 262.8h0M847.6 297.6h0M847.1 240.9h0M846.6 321.7h0M846.5 310.2h0M846.9 342.7h0M846.7 375.6h0M847.2 370.6h0M847.7 262.1h0M847.2 331.6h0M847.8 380.3h0M846.5 233.8h0M846.5 233.2h0M846.6 159.2h0M846.9 183.7h0M847.8 217h0M846.9 361.7h0M846.8 343.8h0M847.4 293.5h0M847.5 380.2h0M847.6 268.8h0M846.7 266.6h0M847.6 406.6h0M846.8 371.6h0M847 333.5h0M846.8 201.7h0M847.2 405.9h0M846.5 279.3h0M847.6 349.8h0M846.8 384.1h0M847.5 236.2h0M847.1 323.1h0M846.7 285.8h0M847.2 396h0M846.7 359.2h0M847 341.1h0M846.6 366.3h0M847.4 216.2h0M847 274h0M846.8 300.9h0M846.5 261.4h0M846.8 362.5h0M847.3 371.4h0M847.4 307.3h0M846.9 174.1h0M847.5 380.4h0M847.1 367.1h0M847.9 327.4h0M846.6 191.9h0M847.2 254.3h0M847.7 180.7h0M846.7 247.6h0M847.3 190.2h0M847.2 192.2h0M847.1 289.5h0M847.7 279.9h0M846.5 194.8h0M847.3 353.7h0M846.8 289.5h0M846.9 357.5h0M846.8 342.4h0M848.5 320.9h0M848 274.1h0M849 319.5h0M848.8 183.2h0M848.1 344.5h0M849.3 374h0M848.1 154.6h0M848.1 210.8h0M848.3 276.7h0M848.6 224h0M849.1 243.9h0M848.1 341.6h0M848 202.7h0M848.1 232.2h0M849.1 334.5h0M848 417.6h0M848.6 351.1h0M848.4 399.6h0M848.6 283h0M849.1 262.1h0M848.7 371.7h0M848.6 190.1h0M848.9 388.5h0M848.6 296.3h0M848.3 300.5h0M849.2 295.6h0M849.3 162.8h0M848.9 412.7h0M849.2 316.4h0M848.1 271.3h0M849 224.1h0M848.3 343.2h0M848.9 319.3h0M848 323.6h0M848.4 263.4h0M848.5 306.7h0M848.4 176.2h0M848.4 360.5h0M849.2 292.4h0M848.1 172.7h0M849 401h0M848.2 243.1h0M848.7 250.4h0M848.1 256h0M848.4 286h0M848.6 409.7h0M849.4 204h0M848.9 230.1h0M848.5 372.2h0M848.4 350.7h0M848.6 171h0M848.6 383.7h0M848.4 352.8h0M848.7 183h0M849.4 258.9h0M848.8 390.2h0M848 256.3h0M849.3 264.2h0M848.8 224.8h0M848 338.2h0M848.4 397.7h0M848 339.7h0M848.1 245h0M848 272.2h0M848.1 182.6h0M848.7 165.7h0M848.6 178.6h0M717.5 290.7h0M850.3 307.2h0M850 169.4h0M850.1 304.5h0M849.7 218.6h0M849.7 193.3h0M849.9 219.7h0M849.4 224.5h0M849.1 319.7h0M849.7 363.7h0M849.2 205h0M849.8 282.6h0M849.6 341h0M850.3 255.9h0M850.5 217.5h0M850.2 403h0M849.3 311.2h0M849.8 366h0M849.4 190.2h0M849.3 312.4h0M850.1 269.8h0M849.2 168.2h0M850 273.4h0M849.1 332.1h0M850.4 194.6h0M849.6 250h0M850 245.4h0M850 346.8h0M849.9 253.1h0M849.3 284.5h0M850.5 357.1h0M850.3 270.6h0M850.1 208.3h0M850.4 339.8h0M850.3 372.6h0M850.2 215.8h0M849.5 273.3h0M850.2 243.7h0M850.3 375.2h0M849.3 327.2h0M849.9 184.7h0M849.5 200.4h0M850.1 170h0M850.3 203.6h0M850.3 232.8h0M849.4 225.5h0M849 251h0M849.6 262.3h0M849 245.6h0M849.4 407.8h0M850.1 148.3h0M849.8 302.9h0M849.4 209.8h0M850.5 410.5h0M850.3 387.4h0M850 366h0M850.2 294h0M849.8 184.4h0M849.6 215.3h0M850.1 194.6h0M850.2 300.4h0M849.9 315.7h0M1453.6 378h0M1453.6 385h0M1453.8 391.5h0M1460.3 389.3h0M1459.5 375h0M1452.9 300h0M1452.7 330h0M1453 352h0M1457.2 262h0" stroke="#1f77b4" stroke-width="5.5"/><path d="M116.2 277.5L118.8 280L121.2 273.8L123.8 275L126.2 272.5L128 297.5L129.5 311.2L132.5 281.2L134.5 305L137 283.8L139.5 290L140.8 301.2L143.8 278.8L145 292.5L146.8 278L149.5 303.8L151.8 290L153.8 295L155.5 290L158.8 293.8L160.8 305L162.5 318.8L165 290L167.5 300L170 308.8L172.5 302.5L175 305L177.5 286.2L179.5 310L182.5 295L185 305L187.5 288.8L190.5 286.2L195 278.8L200 273.8L203.8 277.5L207.5 271.2L212.5 275L215 278.8L218.8 277.5L221.2 280.5L225 272.5L228.8 271.2L232.5 273.8L236.2 275L241.2 277.5L243.8 270L246.2 272.5L250 255L252.5 267.5L255.5 271.2L258 260.5L261.2 280L263.8 270L266.2 263.8L268 265L270 245L272.5 237.5L274.5 255L276.2 266.2L280 283.8L283.8 261.2L287.5 286.2L291.2 267.5L295 278.8L298.2 286.2L301.2 272.5L304.5 275L308.2 250L311.2 273.8L315 298L318 280L320 265L323.2 258.8L326.2 282.5L330 257.5L333.8 270L336.2 283.8L341.2 262.5L345 272.5L350 277.5L353.8 270L357.5 261.2L361.2 284.2L363.8 265L367.5 272.5L371.2 263.8L373.8 273.8L376.2 265L380 261.2L383.8 266.2L387.5 267.5L391.2 265L395 276.2L400 271.8L406.2 273L410 290L413.8 277.5L416.2 275L418.8 285L421.8 303.8L423.8 292.5L426.2 295L430 280L432.5 271.2L436.2 272.5L440 290L443.8 293.8L450 280L455 278.8L458 287L461.2 272.5L465 271.2L468.8 275L472.5 270L477.5 269.5L480 267.5L483.8 286.2L487.5 260L491.2 275L498.8 296.2L502.5 270L507.5 286.2L510 277.5L515 280L518.8 272.5L525 283.8L532.5 267.5L538.2 295L545 267.5L550 295L553.8 277.5L557.5 281.2L561.2 268.8L563.8 275L567.5 265L571.2 278.8L575 261.2L577 265L580.8 255L585 283.8L590 270L593.8 272.5L597.5 277.5L603.8 258.8L608.8 266.2L611.2 262.5L614.2 270L616.2 261.2L621.2 271.2L625 257.5L628.8 255L632.5 275L636.8 281.2L641.2 253L644.2 273.8L647.5 266.2L651.2 278.8L656.2 260L660 266.2L662.5 265L667 286.2L673.8 261.2L677.5 275L681.2 267.5L687.5 282.5L692.5 260L697.5 273.8L700 268.5L704.1 275L706.5 270.9L708.2 273.4L711.4 266.8L714.7 271.7L717.1 266L721.2 271.7L724.5 265.2L728.5 253L731 266L736.7 248.9L739.9 261.1L744 235.1L746.5 248.9L749.7 231L752.2 237.5L756.2 229.3L757.9 234.2L761.1 215.5L762.8 224.5L763.6 184.7L765.2 168.4L766.8 192.9L768.5 222.2L770.9 214.1L773.4 198.6L775.8 197.8L777.9 194.5L779.9 208.4L781.5 201L783.2 208.4L785.6 201L788.9 193.7L790.8 179L792.6 195.3L795.4 176.6L797.8 163.5L800.3 184.7L801.4 199.4L803.5 168.4L806 143.2L807.6 184.7L808.9 196.2L810.1 198.6L811.7 217.3L812.5 234.2L813.3 221.2L816.1 275.8L818.2 262L821.5 256.2L826.8 284.8L829.6 248.9L831.7 279.9L833.7 254.6L835.3 260.3L836.6 256.2L838.9 271.7L841 261.1L844.3 283.2L845.9 284.8L848.4 302.7L850.8 290.5L852.4 289.7L1449.5 307.4L1452.3 317.3L1454.5 293L1456.6 310.8L1459.2 285.4L1461.7 294.8" stroke="#ff7f0e" stroke-width="2.3" stroke-linecap="butt"/></g><rect x="115.5" y="38.5" width="1347.1" height="479.9" fill="none" stroke="#000" stroke-width="1.11"/><path d="M115.7 518.4v4.9M284.1 518.4v4.9M452.4 518.4v4.9M620.8 518.4v4.9M789.2 518.4v4.9M957.6 518.4v4.9M1126 518.4v4.9M1294.3 518.4v4.9M115.5 43.5h-4.9M115.5 101.2h-4.9M115.5 158.9h-4.9M115.5 216.7h-4.9M115.5 274.4h-4.9M115.5 332.1h-4.9M115.5 389.8h-4.9M115.5 447.6h-4.9M115.5 505.3h-4.9" stroke="#000" stroke-width="1.11" fill="none"/></g>
<g id="panel-b"><rect x="746.2" y="575.5" width="680.7" height="478.9000000000001" fill="#e8e8e8"/><path d="M746.2 575.5V1054.4M1426.9 575.5V1054.4" stroke="#dcdcdc" stroke-width="1" fill="none"/><path d="M284.1 1054.4V575.5M452.4 1054.4V575.5M620.8 1054.4V575.5M789.2 1054.4V575.5M957.6 1054.4V575.5M1126 1054.4V575.5M1294.3 1054.4V575.5M115.5 606.4H1462.6M115.5 660.8H1462.6M115.5 715.2H1462.6M115.5 769.6H1462.6M115.5 824H1462.6M115.5 878.4H1462.6M115.5 932.8H1462.6M115.5 987.2H1462.6M115.5 1041.6H1462.6" stroke="#b0b0b0" stroke-width="1.11" stroke-dasharray="1.11 1.83" fill="none"/><g clip-path="url(#cb)" fill="none" stroke-linecap="round" stroke-linejoin="round"><path d="M118.2 923.2V1001.5M119.5 923.4V1004.2M120.8 888.4V1002M122.1 865.7V996.9M123.4 863.5V992.3M124.7 867.3V995.7M126 904V1001.9M127.3 914.8V1007.5M128.6 916.7V1007.9M129.9 918.7V1007.4M131.2 919.4V1007M132.5 906.2V1005.5M133.8 896.4V1003.8M135.1 887.3V1001.4M136.4 878.3V995.7M137.7 870.9V990M139 873.4V985.5M140.3 876V984.2M141.6 875.9V983M142.9 867.3V981.6M144.2 858.4V980.9M145.5 849.5V981.6M146.8 846.9V982.7M148.1 852.9V984.1M149.4 851.8V985.5M150.7 843.8V986.4M152 836V980.5M153.3 828.2V969.7M154.6 823.2V965.4M155.9 819.9V964.6M157.2 816.6V963.8M158.5 813.2V962.8M159.8 809.8V961.6M161.1 806.3V960.4M162.4 795.5V959.2M163.7 784.1V952M165 777.5V943M166.3 776.3V934.2M167.6 772.4V929.1M168.9 768.6V923.9M170.2 764.8V918.9M171.5 761.1V914.7M172.8 757.4V910.4M174.1 753.7V906.1M175.4 748.1V901.9M176.7 737.4V896.9M178 729.4V891.8M179.3 726.2V888.4M180.6 723.1V886.3M181.9 720.4V885.6M183.2 718.1V882.6M184.5 715.9V879.4M185.8 713.7V876.2M187.1 711.5V872.1M188.4 709V868.2M189.7 706.2V864.5M191 702.8V864M192.3 699.2V864.5M193.6 695.6V865M194.9 691.8V863.1M196.2 688.2V860.1M197.5 684.5V857.1M198.8 681V855.5M200.1 678.7V854.8M201.4 676.8V853.2M202.7 675.8V849.5M204 675.6V843.9M205.3 675.3V838.3M206.6 674.8V835.3M207.9 673.9V835.3M209.2 672.8V835.3M210.5 670.5V834.2M211.8 666.1V831.2M213.1 663.7V828.1M214.4 664V824.2M215.7 665.1V818.9M217 666.2V814M218.3 666.8V811M219.6 667.7V811.2M220.9 668.6V811.4M222.2 669.5V811.8M223.5 669.9V813.7M224.8 670.3V815.6M226.1 667.8V818.8M227.4 665.2V819.7M228.7 662.7V820.6M230 660.2V821.5M231.3 661.2V823M232.6 662.2V824.6M233.9 663.2V826.1M235.2 664.9V827.3M236.5 666.7V827.6M237.8 668.4V827.9M239.1 669.2V828.1M240.4 669.4V828.2M241.7 668.7V828.3M243 668.2V828.3M244.3 667.9V828.2M245.6 667.6V827.6M246.9 668.7V826.3M248.2 670.4V825.1M249.5 672.1V824M250.8 671.5V822.5M252.1 669.4V820.8M253.4 667.3V819.1M254.7 667.4V817M256 669.2V815.4M257.3 671V814.2M258.6 673.1V814.7M259.9 675.3V817.2M261.2 676.8V819.7M262.5 677.7V821.5M263.8 677.5V822.4M265.1 677.4V822.9M266.4 676.9V817.3M267.7 675.6V809.8M269 674.4V802.3M270.3 673.3V796M271.6 672.9V793.5M272.9 672.5V795M274.2 672.3V804.6M275.5 672.9V809.7M276.8 673.4V814.8M278.1 673.9V817.2M279.4 673.6V819.8M280.7 673.3V822.4M282 673V824.9M283.3 673V826.8M284.6 672.9V828.7M285.9 672.8V830.5M287.2 672.7V832.3M288.5 672.6V832.8M289.8 672.5V833M291.1 671.7V832.1M292.4 670.9V831M293.7 670V829.8M295 670.3V829.5M296.3 670.9V829.4M297.6 671.5V829.2M298.9 673.2V827.7M300.2 675.2V825.5M301.5 677.2V823.8M302.8 676.5V824.3M304.1 674.1V826.2M305.4 671.9V828.1M306.7 671.4V829.8M308 672.1V831.2M309.3 672.7V832.7M310.6 674.3V833.7M311.9 676.9V834.2M313.2 679.5V834.6M314.5 680.4V835M315.8 678.4V835.2M317.1 676.5V835.4M318.4 676.3V835.7M319.7 678V836.1M321 679.8V836.5M322.3 681.6V836.2M323.6 683.7V834.1M324.9 675.8V831.9M326.2 666.9V829.2M327.5 637.8V830.4M328.8 644.2V831.7M330.1 671.1V832.7M331.4 671.3V831.1M332.7 671.5V829.6M334 671.7V828M335.3 673.4V827.3M336.6 673.9V826.5M337.9 674.4V826.5M339.2 673.9V825.3M340.5 673.5V823.9M341.8 673V822.5M343.1 672.7V823.4M344.4 672.4V824.7M345.7 672.1V826M347 672.4V829.5M348.3 672.8V833.8M349.6 673.2V838M350.9 672.4V837.7M352.2 671.1V835.2M353.5 669.8V832.8M354.8 669.3V832.7M356.1 669.4V834M357.4 669.5V835.3M358.7 670.1V836.5M360 671.1V837.7M361.3 672.1V838.9M362.6 672.2V840.5M363.9 671.3V842.1M365.2 670.4V843.8M366.5 670.5V844.8M367.8 672.3V844.8M369.1 674.1V844.8M370.4 674.5V844.3M371.7 672.1V842.8M373 669.6V841.3M374.3 668.2V840.2M375.6 670.5V840.1M376.9 672.8V839.7M378.2 674.5V839.3M379.5 673.5V838.5M380.8 672.7V837.7M382.1 671.9V836.7M383.4 671V834.8M384.7 670V832.8M386 669.1V830.9M387.3 668.5V831.5M388.6 667.9V831.6M389.9 667.3V831.7M391.2 667.5V830.7M392.5 667.7V829.6M393.8 667.9V828.5M395.1 668.1V828.5M396.4 667V828.6M397.7 665.8V828.7M399 665V828M400.3 664.2V827.1M401.6 663.4V826.2M402.9 662.7V824.1M404.2 654.5V821.4M405.5 631.8V818.7M406.8 627.6V818.1M408.1 649.6V818.9M409.4 661.2V819.7M410.7 663.9V818.1M412 668.1V814.5M413.3 669.6V811.6M414.6 669.4V811.7M415.9 668.9V814.8M417.2 668.4V818M418.5 666.5V819.3M419.8 663.5V817.7M421.1 660.7V816.1M422.4 659.2V815.6M423.7 660.7V817.2M425 662.1V818.9M426.3 662.7V820.7M427.6 660.5V820.6M428.9 658.4V820.5M430.2 656.8V820.4M431.5 658.1V820M432.8 659.5V819.6M434.1 660.7V819.5M435.4 661V818.6M436.7 661.3V808.8M438 661.6V799M439.3 660.3V786.7M440.6 658.9V782.2M441.9 657.5V786.7M443.2 659.4V791.9M444.5 661.5V797M445.8 663.3V801.4M447.1 662.1V803.7M448.4 660.4V805.8M449.7 658.7V807.9M451 658.5V812.9M452.3 658.9V818.7M453.6 659.2V821.7M454.9 623.9V822.2M456.2 656.8V821.9M457.5 655.4V821.6M458.8 655.2V822.8M460.1 655.8V824.9M461.4 656.4V827.1M462.7 657.4V826.9M464 658.7V824.8M465.3 660V822.7M466.6 660V823.4M467.9 658.5V827.1M469.2 656.8V830.8M470.5 656.1V832.4M471.8 656.9V830.6M473.1 657.6V828.9M474.4 658.2V827.9M475.7 658.5V828.7M477 658.8V829.5M478.3 658.7V830.4M479.6 657.6V832.5M480.9 656.4V834.5M482.2 655.3V836.4M483.5 655.2V837.1M484.8 655.1V837.8M486.1 655V838.5M487.4 655.2V839.7M488.7 655.4V840.9M490 655.6V842M491.3 655.4V840.7M492.6 655.1V839.3M493.9 654.8V838M495.2 655.2V837.4M496.5 655.6V836.8M497.8 656V836.3M499.1 656V834.6M500.4 655.9V832.8M501.7 655.8V831M503 656.8V830.8M504.3 658.2V832.5M505.6 659.5V834.1M506.9 659.9V834.9M508.2 659.7V835.2M509.5 659.6V835.5M510.8 659.1V835.4M512.1 658.3V835.2M513.4 657.5V835M514.7 658V836.7M516 659.8V837.9M517.3 661.5V838.5M518.6 661.8V838.6M519.9 660.4V837.9M521.2 658.9V837.2M522.5 658V836.2M523.8 657.8V834.7M525.1 657.6V833.2M526.4 657.8V831.9M527.7 659.7V830.9M529 665.5V830M530.3 671V828.9M531.6 675.6V827.8M532.9 680.3V826.6M534.2 677V825.3M535.5 658.5V823.2M536.8 647.5V821.1M538.1 646.9V818.9M539.4 645.9V817M540.7 644.9V816.1M542 643.9V816.2M543.3 643.5V816.7M544.6 643.1V817.1M545.9 642.6V817.6M547.2 642.2V818.5M548.5 642.1V819.5M549.8 642V820.4M551.1 642V821.7M552.4 642.1V823.2M553.7 642.2V824.3M555 642.8V824.3M556.3 616.3V824M557.6 635.8V823.6M558.9 647.3V824.8M560.2 651.1V826.7M561.5 651.5V828.6M562.8 653.7V828.7M564.1 656.9V827.7M565.4 660.2V826.4M566.7 661.2V826.8M568 660.2V828.7M569.3 659.3V830.7M570.6 658.7V831.8M571.9 658.5V831.8M573.2 658.3V831.8M574.5 658.2V831.2M575.8 658.3V829.5M577.1 658.5V827.9M578.4 659.1V827.6M579.7 660.7V828.7M581 661.1V829.8M582.3 660.6V831.2M583.6 658.5V833.4M584.9 656.3V835.6M586.2 654.3V837.6M587.5 653.1V838.6M588.8 651.8V839.6M590.1 651V841.2M591.4 654.1V849.9M592.7 657.1V858.5M594 660.2V867.2M595.3 660.9V870.4M596.6 661.5V858.5M597.9 662.1V846.5M599.2 664.5V836.1M600.5 665.8V824.8M601.8 665.5V813.4M603.1 666V804.2M604.4 666.7V799.4M605.7 667.3V794.5M607 665.1V789.8M608.3 662.1V785.1M609.6 659.1V780.4M610.9 657.6V787.4M612.2 656.7V799.5M613.5 655.8V811.6M614.8 655.1V823.5M616.1 656.1V825.8M617.4 657.5V826.3M618.7 659.6V827.1M620 662.4V828.1M621.3 665.2V829.1M622.6 666.4V829.2M623.9 665.8V828.2M625.2 665.2V827.2M626.5 665.1V827.1M627.8 665.7V828.4M629.1 666.3V829.3M630.4 666.6V829.9M631.7 666.1V830.1M633 665.7V830.3M634.3 664.9V830.6M635.6 663.1V831.1M636.9 661.4V831.7M638.2 659.6V831.7M639.5 657.8V828.5M640.8 657.1V825.2M642.1 657.3V822.4M643.4 659.5V824.9M644.7 661.6V827.3M646 663.8V829.7M647.3 664.4V830.5M648.6 664.9V831.2M649.9 665.5V832M651.2 665.7V829.9M652.5 665.9V827.6M653.8 665V824.8M655.1 663.7V825.6M656.4 662.3V827.1M657.7 661V828.5M659 661V827.2M660.3 661.6V825M661.6 662.1V822.8M662.9 660.9V822.7M664.2 658.9V823.6M665.5 657.2V824.9M666.8 656.9V825.1M668.1 657.3V824.2M669.4 657.7V823.3M670.7 658.1V822.9M672 658.6V822.9M673.3 659.1V823M674.6 660.2V823.9M675.9 662.1V825.8M677.2 663.9V827.7M678.5 664.7V828.5M679.8 663.7V828M681.1 661.5V827.5M682.4 659.1V827.7M683.7 656.9V829.1M685 654.8V830.5M686.3 652.9V831.3M687.6 652.2V829.8M688.9 651.5V828.3M690.2 651.2V827M691.5 653V827.1M692.8 654.9V827.2M694.1 656.7V827.4M695.4 658.6V829.2M696.7 660.5V831M698 662.4V832.9M699.3 664.3V831M700.6 664.9V829.1M701.9 663.7V827.2M703.2 664.7V829.8M704.5 665.8V832.2M705.8 666.8V834.7M707.1 664.4V834M708.4 661.3V832.8M709.7 661.3V831.6M711 663.5V828.9M718.8 629.9V789.1M720.1 631.2V791.3M721.4 632.5V793.5M722.7 631.4V796M724 629.1V798.6M725.3 626.8V801.3M726.6 625.8V803.1M727.9 626.2V803.6M729.2 626.5V803.3M730.5 629.6V803.7M731.8 637V805.6M733.1 644.4V807.4M734.4 647.2V808.6M735.7 644.5V808.3M737 641.8V808M738.3 639.4V808.7M739.6 638.2V812.7M740.9 637.1V817.6M742.2 635.9V822.6M743.5 637.4V825.6M744.8 639.7V828.5M746.1 642V832.1M747.4 643.5V834.4M748.7 645V836.7M750 646.5V839M751.3 644.6V843.1M752.6 642.8V847M753.9 640.9V848M755.2 639.3V848.7M756.5 638.8V849.3M757.8 642.9V850M759.1 644.2V850.3M760.4 644.9V850.5M761.7 645.6V850.7M763 650.5V850.2M764.3 659.8V849.5M765.6 669.2V849.4M766.9 678.2V851M768.2 686.9V853M769.5 689.7V855M770.8 688.9V856.6M772.1 688.5V858.1M773.4 688.1V861.2M774.7 687.8V864.8M776 690.3V868M777.3 693.5V871.2M778.6 696V866.7M779.9 697.6V883.8M781.2 716.3V893.3M782.5 733.7V897M783.8 746.6V898.1M785.1 759.6V899.2M786.4 771.1V902M787.7 771.9V908.7M789 772.7V929.8M790.3 778.2V953.6M791.6 799.4V961M792.9 818.6V967.9M794.2 833.2V974.6M795.5 854.1V979.2M796.8 875.9V983.7M798.1 884.5V988.3M799.4 895V990.7M800.7 905.9V992.6M802 939V999.8M803.3 951.6V1007M804.6 958.2V1011M805.9 964.3V1013.3M807.2 977V1013.5M808.5 989.1V1013.5M809.8 993.9V1013.4M811.1 1000.4V1014.5M812.4 1001.3V1015.8M813.7 1002.1V1017.1M815 1002.3V1017.1M816.3 1002.3V1017.1M817.6 1004.1V1017.1M818.9 1005.6V1018.3M820.2 1007V1020.1M821.5 1008.1V1022.1M822.8 1009.6V1023.7M824.1 1011.9V1025.1M825.4 1015.8V1026.4M826.7 1021.8V1025.8M828 1021.7V1023.7M829.3 1020.7V1022.7M830.6 1020.8V1022.8M831.9 1022V1024M833.2 1023.2V1025.2M834.5 1023.6V1025.6M835.8 1022.7V1025.6M837.1 1021.9V1026.3M838.4 1021.6V1027.1M839.7 1022.7V1027.9M841 1023.8V1028.8M842.3 1026.9V1029.2M843.6 1029.9V1031.9M844.9 1030.5V1032.5M846.2 1030.9V1032.9M847.5 1031.3V1033.3M848.8 1031.7V1033.7M850.1 1032.2V1034.2M711 663.6V828.7M717.8 629.2V786.6M851 1033.2V1035.2M1453.8 952.9V1016.1M1455.2 952.2V1017.8M1456.6 954.6V1015.2M1458 952.5V1017.3M1459.2 954.5V1015.2M1460.4 955.5V1010M1461.8 954.2V1010M117.9 921.7V925.8M120.4 1001V1004.2M124 990.7V993.8M125.7 1004.9V1005.4M127.1 1007V1010.5M130.4 915.8V916.8M132.9 905.1V907M132.9 1006.3V1008.3M135.3 886.5V887.3M134.6 998.8V1003.4M136.8 876.4V878.4M139.1 989.9V991.6M140.1 867.7V871.6M142.7 983.8V988.1M149.5 849.8V854.3M151.3 835.2V835.3M153.5 816.9V823.5M156.4 814.5V816.6M156.7 815.7V819M157.1 961.3V965.2M158.4 806.4V811M159.3 808.5V809.2M160.7 780.9V781M161.1 957.9V961.1M164.6 764.9V771.6M166.1 767.5V770.5M166.7 766.5V770.5M170.7 734.6V743.2M170.8 922.5V925.3M172 755.7V759.6M171 752.9V759.6M174.6 744V753.8M174 925.6V928.8M174 916.9V917.5M175 914.6V923M176.1 731.8V733.2M177.3 728V728.4M176.3 899.3V903.2M178.3 723.7V731.3M177.8 901V906.7M179.2 716.5V719.6M181.2 717.2V722.5M181.3 718.9V721.7M182.1 883.2V893.7M182.5 885.7V891.5M182.6 710V714.7M183.6 880.8V885M184.3 878.4V892.5M183.9 887.3V889.9M185.7 711.6V714.6M186.2 897.2V897.3M187.4 875.3V877.6M188.3 705.8V709.4M188.9 878.8V890.1M189.2 702.7V703.4M189.4 869.7V879.4M190.6 674V677.6M191.4 883.1V883.1M191.4 924.9V925.6M191.8 687V690.4M192 697.6V698.7M192 870.1V873.3M192.1 865.9V875.4M192.3 886.7V888.3M192.2 892V902.3M193.8 881.5V881.9M193.4 864.1V869.9M194.4 862.2V868.4M195.7 685V687.2M196.4 665.7V666.9M195.6 870.5V875.5M196.8 866.7V870M197.8 915.1V920.2M198.7 907.9V908.1M198.8 869.8V870.5M198.2 867.4V871M199.8 641.8V643.8M200.5 868.8V869.7M199.9 858.8V861.7M201.5 668.6V675.4M200.9 917.7V927.3M202.4 860.3V864.4M203.2 864.3V868.3M202.2 849.2V864.1M204.1 639.7V650M204.6 896.1V899M205.7 859.3V861.3M205.4 843.8V847M205.9 845.2V857.7M206.1 668.3V670.8M206.7 853.7V858.9M206.1 867.8V868.1M207.1 905.6V915M207.5 665.4V669.8M208.4 656V656.1M208 853.1V858.7M209.2 835.6V839.1M210.7 655.2V656.7M210.5 654.3V661.5M211.1 886.6V887.1M210.3 853.9V860.8M211.3 650V651.5M211.8 892.4V895M213.1 647.6V650.6M213.2 639.1V639.8M212.9 855.7V867.7M212.5 852.6V857.5M214.9 650.6V654.9M214.2 659.3V662.4M214.7 822.9V827.9M216.1 830.2V830.7M216 825.9V828.1M217.2 866.7V878.3M217.3 832.6V843.4M216.9 827.7V828.1M217.7 642.3V648.1M218 829.8V836.5M218.1 818.4V822.6M218.6 893.5V895.5M220.1 868.1V868.1M219.8 819.8V824.8M221.1 840.4V842.9M221.5 827V827.4M221.1 833.7V837.4M222.7 815.9V822.2M221.9 815.7V822.5M222.1 828V832.4M222.8 825.7V826.6M223.4 665.1V669M223.7 665.5V671.6M223.4 842.9V843.6M223.1 815.5V822.1M224 826.6V828.3M224.3 663.2V672.9M224.6 861.4V865.7M224.4 817.8V824.8M226.3 656.5V659.3M226.2 665.7V666.4M226.6 834.2V839.4M226.5 820.4V826.6M225.9 834.3V838.3M226.5 835.4V836.6M226.5 821.6V827.6M227.5 658.9V662.4M227.5 869.6V871.6M227.5 824.3V824.4M228.7 649.3V664.7M229.2 654V663M228.6 822.1V827.3M229 820.4V827.4M228.9 818.5V829.9M229.4 868.7V872.4M230.4 819.8V825.2M231.1 842.3V842.8M231.8 837.3V839.7M231.6 839.2V841.4M231.2 870.9V872.5M233.2 843.9V844.3M232 838.5V842.8M233.8 824.4V828.2M235.8 657.4V665.7M234.6 858.6V861.3M235.2 824.8V829.9M235.2 845.5V847.8M236.8 827V834.7M236 840.8V849.2M236.8 839.4V843.7M236.6 834V835.3M239.1 832.5V834.3M239.9 854.7V856.5M240.8 826.1V831.8M240.4 827.6V838.3M241.2 656.3V659.5M241.6 826.4V830.5M242.3 833.4V836.6M243.5 657.4V661.9M243.2 861.8V865.7M243.1 833.6V837.3M242.7 837V837.7M243.5 872.5V875.2M243.7 661V664.5M243.8 833.5V834.1M244.5 864.3V874.6M245.8 663.7V667.8M245.6 837.6V837.6M246.6 829.3V831.9M246.7 858.1V867.9M247.6 836.4V838.9M248.2 826.2V832.5M248.7 859.7V861.5M248.9 654.7V657.5M249.1 859.8V860.1M249 845V846.1M249.9 866.3V887.5M249 823.9V831M250.2 659.5V666M251.1 656.1V657.8M251.1 863.8V871.6M250.8 822.9V826.8M251 856.1V856.3M251.1 839.5V850.4M252.1 648.2V652.2M251.9 658.9V660.2M252.5 856.6V857.7M253.7 656.2V668.9M253.5 655.9V656.4M253.6 851V855M253.8 820.9V826.2M252.8 835.7V842.3M254.3 661.9V663.1M254.6 822.1V823M254.2 858.2V862.7M254.1 834.1V840.9M255.3 833V834.2M256.1 666.1V670.5M256.1 653.4V656.3M256.1 831.1V834.4M256.3 855.7V863.2M256.2 827.1V828.3M257.5 840.7V845.7M257.5 897.8V901.1M256.8 836.5V838.5M258.5 654.8V659M258.7 832.2V841.6M260 656.3V659.4M260.5 827.9V828.8M259.9 844.8V844.9M259.9 821V834.4M261.2 828.4V836.8M262.9 666.6V673.2M262.2 670V673.2M262 822.6V830.5M262 844.8V845.2M263.1 900.9V902.7M263.8 653.2V658.7M264.7 660V666.8M265.5 854.3V857.9M266.9 668.8V670.4M266.4 837.3V837.7M266.9 830.9V831.8M266.4 825.6V825.8M266.9 892V898.4M268.7 649.8V652.3M268.9 837.8V840.7M268.9 828.8V830.5M269.2 815.1V819.1M270.5 654.9V660.3M270.7 801V804.2M270.1 813.5V820.6M269.7 811.6V827.7M271.2 668V669.7M272.1 658.1V658.2M271.4 669.6V672.4M271.8 806.3V811.9M272.1 849.4V850.5M271.8 795.8V800.5M271.4 828.9V836.8M272.7 659.9V668.3M272.7 631.2V659.5M273.4 809.6V812.9M272.9 871.2V871.2M274.8 667V669.2M274.5 828.4V837.4M274.4 803V816.8M275.3 653.9V656.8M275.8 859.4V863.6M277.2 820.3V825.7M277.1 834.1V840.9M277.4 845.8V845.8M277.3 837.5V863.6M278.5 656.1V658.8M277.9 665.7V674M278.1 835.7V837.4M278.3 865.6V871.7M277.5 825.6V830.8M279.2 661.9V668.6M279.5 875.5V881.3M279.8 828.8V830.5M280.3 638.5V640.8M280.6 832.1V832.6M282 658.4V667.5M281.9 838.5V839.9M282.4 836.4V840.3M282 826.8V832.7M281.6 854.8V856.9M283.2 664.8V667.9M283.2 828.1V833.3M283.3 832.6V839.7M283 858.3V863.8M284.1 653.4V659.2M285 857.5V861.7M284.7 841.1V851.2M285.3 642.1V643M285.3 838.4V839.6M285.9 833.4V833.9M285.4 834V835.1M285.7 863.6V883.7M287.7 850.4V852.2M286.8 832V835.7M287.1 860.4V863.1M287.8 832V843.2M288.6 652.3V661.3M289.1 637V642.9M288.1 869.1V869.5M288.1 842.9V848.5M289 882.3V882.5M290 903.8V904.9M291.3 667V672.2M291.4 648.8V652.6M291.2 883.1V897M292.3 834.8V838.6M292.7 831.3V836.8M292.6 875.2V877.7M293.1 663.2V672.5M293.6 841.8V842.3M294 874.1V876.4M293.1 847.4V854.1M294.4 643.2V670.6M294.8 668.1V672.6M294.6 887.4V893.1M295.4 846.3V851.8M296.7 847.6V861.6M296.3 838.2V839.4M297.4 834.3V835.4M298.8 658.9V661.5M299.3 836.6V838.1M298.3 830V834.3M298.6 863V866.2M300.7 829.8V834.4M300 883V884.4M301.8 658.5V660.5M301.9 842V848.1M301.8 841.4V842.6M301.4 881.7V891.6M303.3 830.3V834.6M303.8 665.9V669.3M303.8 657.6V660.5M304.1 866.9V869.6M304 868.2V874.3M304.1 836V840.9M305.4 664.2V671.9M305.9 830.8V841.4M305.6 843.2V853.9M305.6 849.7V858.4M306.7 834.6V847.8M306.1 871.4V873.2M306.6 888.7V888.7M307.9 662.7V663.2M308.5 669.9V671.9M308.6 856.7V858.8M307.7 836.8V837M308.4 869.4V874.7M309.3 650.6V654M308.7 851.3V860.1M309.1 845.6V852.9M309.8 860V867.7M310.9 657.1V671.9M310.5 833.7V841.5M310.8 866.7V867M311.9 651.3V651.6M312.4 848.8V849.7M312.5 840V842M313.5 669V671.6M312.8 894V897.5M312.9 862.5V862.9M313.5 846.2V847.4M314.7 646.5V649.3M314.9 669.6V672.5M314.7 834.8V845.4M314.4 861.6V864.3M316.1 665.5V666.2M316.3 915.2V917.8M316.8 849.1V854M316.7 867V868.6M318.6 664.4V669.9M318.6 645.8V652.4M318 842.5V846.6M319.7 673.8V673.9M319.5 654.3V667.9M319.2 842.9V855.4M319.1 836.7V843M319.8 841.8V842.7M320.9 672.7V673.5M320.6 836V841M321.4 862.6V866M321.9 850.4V856.4M322 849.2V856.9M323.7 678.5V681.7M323.1 837.6V838.5M324.7 642.4V645.1M324.6 865.6V873.3M325.5 842.8V843.8M324.5 894.8V899.4M325.9 893.8V895.1M326.5 865V865.8M325.6 852.1V862.4M325.7 882V885.4M328 852.6V856.2M327.2 855.3V856M329.4 604.1V617.9M328.5 860.7V861.9M328.2 840.9V845.7M328.9 831.7V835.4M328.9 846.9V857.9M330.2 661.1V668.8M329.5 830.9V843.5M331.1 834.3V837.1M331 842.4V843M332.8 828.6V834.7M332.3 828.6V842.7M332.6 828.6V832.8M333.3 867.7V868.2M333.5 644.4V655.4M333.9 660.1V660.4M333.4 868.2V871.4M335 845.7V848.9M335.2 838.9V842.8M334.9 859V859.2M335.5 839.5V844.8M334.7 847.6V851.8M336.5 656.9V657.6M336.9 659V659.5M337 844.9V857.9M336 827.1V840.3M336.1 854.8V857.8M336.3 841.6V846.6M337.3 658.2V662.5M337.5 664.6V673.8M338.1 825.2V831.9M338.5 862.6V866.8M339.6 641.7V643.9M338.8 657.1V658.1M339.2 841.8V843.4M341.6 665.4V673.1M343.4 636.9V638.5M343.5 669.4V671.9M343.6 841.6V849.8M343.1 900.9V915.1M344 839.3V846.3M343.9 840V843.6M344.3 863.8V865.3M345.5 663.5V664.7M345.5 855.1V862.7M345.7 837.8V838.9M346.9 847.1V848.8M347.5 869.9V874.9M346.7 883.4V893.3M347.2 834.3V840M348.6 666.1V669.2M348 843.5V844.7M348.5 860.2V878.6M348.7 892.3V903M347.7 856V863.2M350 668.8V671.8M349 840.6V857.9M350 885.5V892.1M349 836.9V840.5M351.4 668.2V668.5M350.4 667.6V671.7M351.4 837.6V840.6M350.8 839.5V845.6M351 853.2V855.2M351.5 849.4V857.6M352 660.7V660.7M351.7 891.7V898.3M352.8 838.1V842M352.9 889.6V891.1M353.4 864.3V872.3M353.8 838.7V845.5M355 665.1V665.9M354.5 865.6V872.5M354.3 910.4V914.3M355 841V842.4M356.6 667.4V671.2M356.6 860.9V864.7M355.8 871.7V882.9M357.1 662V662.7M357.2 842.1V843.2M357.6 840.2V850.9M357 852.2V856.7M357.4 850.9V853.5M358.4 840.7V848.4M358.8 847.8V858M358.7 843.4V847.4M359.8 652.7V655.7M360.4 874.6V876.5M359.8 873.5V879.9M360 844V847.1M361.5 652V652.2M361.2 886.3V889.8M361.6 887.6V888.9M361.6 841.8V850.4M360.9 856.6V857.5M360.7 892.6V895.5M363.1 856.3V859.3M363.2 854.6V865.9M363.1 864.4V871M364 656V659.7M364.5 624.3V626.1M364 842.2V848.5M364.1 842.2V846.9M364.1 842.2V854.8M365 651.8V662.9M365 654.9V660.2M364.9 666.8V667.7M365.8 843.1V852.7M364.8 861.7V863.4M365 926.6V931M365.9 860.1V869.5M366.1 842.2V845.6M368.2 662.1V670.3M368 662.6V669M367.4 842.2V848.9M367.8 849V851.6M368 851V851.3M368.6 848.7V851.7M369.2 850V850.4M368.7 851.1V851.2M370.9 666.8V668.9M370.4 653.2V654M370.4 847.3V851.3M370.1 858.7V862M370.5 869.4V885.2M371 877.8V881.7M372.2 658.6V659.3M371.4 664.7V669.9M372.2 848.3V851.4M372.7 655.5V663.1M373.2 866.4V866.7M372.4 887.1V890.2M372.7 908.2V909M374.7 663.5V665.1M373.9 871V875.4M374.2 856.4V857.5M376 660.6V665.2M375.3 845.2V851.4M376.1 846V857.6M376 857V858.8M376.2 875.3V877.4M377.4 645.9V648.5M376.5 632.7V633.6M376.3 855.7V860.8M376.7 880.3V888.9M378 884.1V886.6M378.1 879.7V883.5M377.6 844.9V847.8M377.6 844.4V858.3M378.4 917.7V918M379.7 648.2V649.1M380.1 654.5V669.3M379.1 657.5V663.7M379.2 847.5V848.9M379.4 843.1V849.6M379.2 848.9V850M379 840.4V844.7M380.7 662.1V664M380.4 665.7V666.8M381 841.2V845.5M380.7 879V879.3M380.6 870.7V871.3M381.2 886.5V888M382.4 904.9V905.2M382.7 872.9V894M381.7 839.4V850.1M383.9 655.6V659.2M384 886.3V893.1M383.9 857.3V861.1M384.5 649.5V653.9M384.6 655.7V657.8M384.3 853.8V860.5M385.2 887.3V889.1M384.3 838.4V843.9M384.8 898V900.8M386.1 655.3V657.1M385.4 855.8V865.1M386 892.7V899.7M386.8 664.2V669.9M386.7 839.5V842M387.8 837.3V847M387.1 856.1V856.4M388 665V665.5M389.2 862V869.3M388.2 853.8V877.2M388 870.4V876.9M388.5 843.3V843.9M388.4 836.4V839.5M390 654.4V660.1M389.8 837.9V839M391.7 656.5V664.3M390.7 837.5V840.7M391.8 857.8V863M391 850V850M391.1 863.8V865.1M392.5 658.5V661.2M392.5 836.1V839.8M391.9 846.9V851M392.2 849.3V851.7M393.8 839.4V839.6M393.4 909.4V910.2M393.8 837.5V842.8M395.2 657.6V670.4M395.6 836.4V843.3M395.3 831.2V838.3M397 660.5V667.3M396.1 853.9V856.2M396.7 843.6V845M397.5 651.4V652.1M398 841.8V842.1M398.2 916.1V918.1M398 873V884M398.7 648V651.6M399.5 844.4V848.1M398.8 842.4V845.3M398.6 845.3V849.8M399 898.4V898.6M398.8 844.7V848.6M399.9 842V849.5M400.3 836.2V842.1M400.3 851.8V859.1M400.1 837.5V843M401.1 644V649.1M401.4 852.1V857M402.2 826V835M403 657.2V662.6M402.4 648.5V649.1M403.3 833.5V835.1M403.5 858.3V872.1M403.8 646.9V650.8M404.2 829.7V831.9M404.7 823.9V830.3M404.8 880.1V887M403.7 825.2V827.8M405.6 627.1V627.5M405.3 839.1V840.6M405 822.8V830.8M407.3 618.1V619.9M406.8 902.8V903M406.8 830.7V834.2M409.6 655.1V658M409.6 847V847.1M409.8 820.1V833.1M410.5 828.3V830M411.3 837.5V840.9M412.5 662.3V668.3M411.7 825.8V828M412.4 825.6V829.8M412.3 817.6V826.2M411.5 828.3V829.6M413.6 659.5V660M413.1 641.8V642.8M412.9 832.6V835.1M413.7 824.2V827.2M413.5 841.8V843.2M413.9 854.5V864.7M414.7 662.8V666.7M414.3 642.4V645.9M414.2 827.1V831.6M415.6 639.7V640.9M415.6 852.5V856.5M417.2 838.8V839.5M417.4 817.2V821.8M418.7 645.4V648.5M418.1 652.7V653.1M418 847.7V848.4M418.9 817.3V821.9M418.8 823.1V824.2M419.2 817.2V828.6M420.3 817.2V824.4M420.4 817.2V842M420.2 817.2V840.5M420.6 849.7V850.4M420.7 822.4V824.2M421.9 848V856.3M423.6 657.2V660.6M423.9 840.8V846.5M425.6 624.3V625.4M425 831V847.1M425 862.7V869.5M424.9 830.6V832.5M426.3 641.1V642.7M426.4 860.3V862.4M425.7 838.7V840M427.1 639.1V659.8M427.7 829.5V841M429.1 823.1V824M429.5 841.1V849.4M428.3 825.8V825.9M429.4 852.7V853.7M428.8 822.1V823.4M429.7 644V659.2M430.6 880V882.9M430 819.9V844.6M429.7 837.3V837.4M431.6 639.4V645M431.1 824V829.5M431.6 868.8V876.5M431 822.7V827.8M432.4 655.6V658M432.5 889.1V889.6M433.2 837.3V838.2M433.2 829.8V831M434.2 650V652.6M434.2 614.3V619.2M433.6 873.5V873.7M435.3 615.8V616.5M435.6 859.2V865.5M435.4 865V871.2M436.7 643.7V644.6M437 652.1V654.4M436.8 828.2V829.9M437.3 831V836.1M436.9 847.8V852.1M438.1 810.7V811.1M437.4 803.4V814.6M437.6 878.3V880.9M438.9 656.1V659.2M439.8 789.6V793.6M439.4 817.1V817.4M440.9 650.8V656.7M440.2 780V783.2M440.1 801V806.2M440.4 789.2V792.4M442.5 654.9V659.2M442.5 651.4V651.5M441.3 803.8V807.2M441.9 788V790.1M442.8 797.3V798.9M443.6 822V830.8M442.9 804.2V816M444.5 634.8V636.1M444 800.3V800.6M445 801.5V805.7M444.7 817.1V817.3M445.4 641.7V645.9M445.2 823.4V825.5M445.8 807.5V814.6M446.6 632.3V636.2M446.8 827.6V830.4M447.2 828.7V842.7M448.9 820V823.5M448.7 844.4V848.7M447.8 818.9V820.5M448 850V854.9M449.5 642.9V643M449.5 636.7V637.9M449.5 815.2V816.5M449.5 817.1V829.4M449.6 813.9V814.3M450.4 829.7V831.3M451.4 820.2V825.5M451.8 650.1V657.2M451.7 643.9V648.3M452.9 845.2V851.2M453.9 852.6V853.6M453.8 824.6V831.1M453.2 820.8V825.5M454.2 849.6V850.2M454.7 617.6V620.6M455.2 880.5V886.5M455.2 824.2V831.6M456.4 652.7V653.8M456.3 864V884.6M455.8 858.4V858.6M457.6 636.6V636.8M457 822.5V829.5M456.9 830.4V836.8M458.5 617.4V632.3M458.2 826.2V837.7M458.2 836.8V838.4M458.2 842.9V853.2M459.2 863.3V870.4M460.3 832.9V836.6M461 621.6V622M461.7 829.7V837.4M461.1 886.3V894.4M461.4 828.6V833.5M463.1 635.3V640.7M462.7 827.3V833.1M462.3 849.7V859.8M464.4 638.6V649.1M463.9 839.7V852.7M464.5 827.1V831.6M463.7 846.9V848.6M465.6 653.2V657.7M465.6 828V840.5M464.7 833.6V838.3M465 847.9V851.1M466.7 648.9V652.4M466.5 902.2V913.4M467 838.5V839.3M466.3 829.2V849.6M466.3 849.5V854.7M468 638.8V646.3M467.7 836.6V836.9M467.3 855V858.5M467.6 877.4V884.6M469 832.8V842.7M469.3 831.5V835M469.2 831.5V842.2M468.9 831.5V834.7M470.3 632.2V635.3M469.9 832.6V838.6M470 857.6V859.8M471.7 833.3V838.2M471.3 846.6V850.4M473.3 645V651.5M473 838.8V839.4M472.5 869.7V869.9M473.7 863.3V866M473.8 839.6V846.6M474.3 901.7V904.6M473.8 897.2V899.5M475.3 621.5V623.9M475.3 842.5V845.5M475.3 835.7V840.4M478.3 648.9V657.5M477.9 650.3V651.8M478 849.8V863.3M478.9 837.1V841.3M478.4 872.8V874.4M479.2 631.2V636M481 651.4V657.3M481.2 845.9V850.1M480.7 844.7V845.3M480.7 844.3V848.6M481.4 886.2V887.1M482.1 626.8V627.3M482.5 648.4V651.3M482 898.4V898.8M481.6 845.1V845.8M481.7 847.7V854.9M483.2 638.2V641.1M483.2 647.6V647.8M484.1 909.1V916.1M483 844.4V846.8M483.5 870.2V874.1M483.1 841.8V857.7M485.1 625.2V626.3M484.5 855.5V861.1M484.9 845.5V849.7M485.4 871.9V873.3M486.7 643.2V643.9M486.5 646.4V648.8M485.7 845.5V854.1M486 856.9V872M486.8 633.6V635.3M488 855.4V857.7M489 645.9V650.4M488.2 864.5V864.8M489.1 841.2V844.6M489.6 643.5V643.9M489.6 650.6V653.3M489.7 841.7V847.8M491.1 646.7V649.1M490.8 863.2V866.9M493 653.9V655.6M492.4 839.1V842.6M493.2 844.7V845.7M493.7 651.9V656.9M495.6 646.7V647.6M495.3 855.7V864.8M495.5 851V853.2M497 654.2V655.6M496 851.2V852.1M496.3 836.7V846.4M497.1 844.3V848.6M497.8 636.4V645.7M497.8 833.9V840.4M498 843.7V852.6M498.4 854.8V857.9M499.4 652.8V654.4M499.3 858.9V865.8M500.8 647V653.3M500 845.7V846.6M499.9 837.8V843.6M502.1 624.2V626.9M501.3 830V835.6M503.6 655.4V658.4M503.3 654.5V655.2M503.5 833.5V838.4M503.3 840.2V844.5M502.8 836.2V838M503.2 838.3V839.3M503.2 892.9V904.9M503.7 653.8V656.9M503.7 869.3V869.9M504.4 833.4V834.9M504 840.3V841.8M505.2 651.4V658.7M506.2 832.4V836.4M506.4 649.5V649.8M506.4 646.9V654.5M507.5 869.6V870.8M507.4 833.7V838.9M508.2 634V642M508.2 872.6V872.7M508.6 835V840.8M508.9 652.2V654.5M510.1 859.7V866.6M509.1 876.7V878M510.4 650.2V652.1M510.4 855.8V858.5M512.7 882.3V883.6M511.5 858.4V858.9M512 841.9V848.9M513.8 646.4V648.6M513.5 656.1V659.1M513.9 840.2V845.6M513.8 859.4V864.1M513 840.2V849.4M513.3 896.1V897.3M514.9 648.5V650.8M514.4 857.8V862.9M515.3 861.9V870.7M514.9 880.7V882.6M516.1 649.6V650.9M515.9 656V657.3M516.1 865.2V869.5M517.2 640.2V641.2M517.4 652.2V654.1M517.4 883.3V884.6M518.8 653.9V654.2M519 654.4V659.2M518 645.2V649.8M519.2 838.1V844M519.2 852.6V852.8M518.1 847.4V847.7M519.3 654.6V659.2M520.5 849.7V850.7M519.7 841.9V852.9M520 866.3V871.1M520 843.6V853.7M521.1 837.5V838.9M522.5 851.9V854.8M522.3 870.4V875M523.6 888.9V894.4M523.3 832.9V840M523.7 867.8V868.7M524.1 861.3V867.9M525 645V647M524.9 870.6V873.3M528.2 652.5V653.5M528.3 831.5V832.8M529.4 646.7V648.8M528.6 835V836.5M530.3 657.7V659.5M530.2 826.4V841.4M531.6 652.1V654M531.6 825.1V828.2M531 833.6V836M531.7 883.9V890.4M532.5 665V666.4M533.5 662.6V666.2M532.7 849.4V855.7M533.5 841.6V843.1M532.5 823.8V828.1M533.7 877.1V879.2M535.8 640.7V641.4M535.9 821.2V826.9M535.7 853.9V854.5M536.1 845.7V848.4M537.4 625.6V641.1M537.2 637.5V641.4M537.1 833.6V848.4M537.3 830.9V833.7M537.6 642.9V646.3M538.1 631.7V634.5M538.6 824.4V831.8M537.8 818.6V824.2M539.3 820V820.4M539.7 842V843.1M539.9 825.2V826.7M539.3 837V839.9M540.6 629.8V633.7M541.3 817.2V825.7M540.1 817.2V823.6M540.4 863V865.5M540.4 834.9V841.3M542.3 825V829.3M542.4 832.3V840.7M542.2 832.1V836.6M543.7 630.7V633.6M543.5 620.9V621.2M543.1 819.3V830M543.4 829V833.9M542.8 839.9V841.8M545.2 640.9V644.9M544.8 830.2V831.9M544.4 828.8V829.1M545.5 637.1V638.4M546 877.8V884.6M547.4 636.7V644.3M547.7 833.3V835.4M547 839.4V840.5M548.1 635.6V635.8M548.6 842.2V844.4M549.9 639.9V643.6M549.7 822.6V831.8M550.9 625.5V634.7M550.9 848.2V850.2M551.1 848.6V849.6M550.7 855.1V859.6M551 823.4V827.5M553 619.9V624.1M552.9 614.3V640.3M552.9 844.5V847.9M552.3 850.2V851.6M553.8 635.3V638.7M553.4 853.9V856.1M553.3 839.4V848.3M555.6 610.8V612.9M555.2 632.4V634M555.5 866.9V869.9M555.2 828.6V830.8M555 825.3V829.3M555.7 864.4V866.1M555.8 844.9V845M557.3 629.9V635.9M557.1 631.9V634.7M557.9 881.9V882.7M558 836.5V845.2M558.9 635.1V642.2M559.4 643.4V647.5M559.5 862.5V864.1M559.5 841.7V843.1M558.7 834.8V844.7M559.3 839.5V842M560.1 648.3V651.9M560.8 645.8V649.4M559.6 827.3V838.7M560.3 907V908.3M559.6 836V838M561.5 846.1V849.9M562 844.7V849.6M562 829.9V831M563 620.1V634.9M562.6 840.4V856.1M563.6 619.6V632M564 829V832.1M563.8 882.9V886.2M565.1 640.8V647.9M566 651.7V652.9M566.7 840V843.2M568.1 633.6V636.8M567.5 645.8V649.1M568.5 647.4V657.8M568.4 851.6V859.7M568.6 829.2V835.6M569.4 852.1V854.3M569.2 837.7V839M570.8 653.9V654.8M570.1 841.8V853M570 866V866M571.2 842.3V847.5M571.8 830.4V841.8M571.4 830.6V841.5M573 655.3V660.1M573.3 840.7V842.8M573.6 839.2V843M573.9 627.2V643.8M574 649.4V649.6M574.1 834V837.1M574.6 837V839.3M576.2 639.5V644.4M575.7 829.2V834.5M576.4 829.5V843.8M575.6 849.9V857.3M576.6 654V661M578.8 651.5V652.4M578.2 653.3V655.3M578.4 830.2V834.3M577.9 857.9V864.5M579.6 652.7V655.3M579.1 658.1V658.2M579.9 860.4V863.1M579.9 833.8V837.3M580.7 617.6V619.9M580.4 855.4V864.8M580.5 859V859.5M581.2 862.1V867.1M582.9 641.9V644.7M582.6 651.9V659.4M582.8 850V854.1M581.9 834.1V841.4M582.3 843.8V845.9M583.3 865.5V869.2M583.6 865.6V869.4M583.2 835.4V846.3M585 905.9V907.1M584.6 839.4V840M584.9 848V852.4M586.6 628.8V630.1M586.8 645.1V645.5M585.6 849.6V858M585.8 851.8V854.1M586.8 838V851.1M587 644V645.7M587.6 637.6V644.1M588.6 649.6V652.9M589.4 849.7V856.7M588.5 882.8V883.6M589.9 893.7V902.3M590.5 865.3V877.2M590.2 866.6V874.3M590.4 842.4V846.8M589.9 858.9V863.1M591.6 647.4V653.9M591.2 642.2V643.8M590.9 645V653.9M591.6 920.1V921.3M592.7 871.4V882.5M594.6 646V649.4M594.3 901.7V903.8M595 652.2V655.9M595.2 654.7V657.2M595.8 871.6V875.6M595.1 925.9V932.7M596.6 655.4V657.3M597 648.7V656.8M597.1 860.4V871.7M597.7 659.9V663.6M598.5 857.8V865.7M597.5 859.4V862.2M599.3 617.5V621.1M599.3 852.4V852.8M600.2 835.6V837.8M600.2 824.2V828.4M600.5 841.2V848M601.2 659.5V665.5M601.4 834.5V849.1M601.7 811.2V815.6M602.3 811.2V821.5M603.1 658.7V660.6M603 841.3V845.3M603.7 812.9V814.2M603.1 809.4V810.2M604.1 652.9V654.7M604.8 655.3V663.8M604.4 809.6V827.4M603.9 811.2V815.3M605.9 654.8V661.3M605.1 797.4V806.1M605.6 820.5V826.2M605.5 799V815.4M606.6 613.4V614.9M607.6 821.9V824M607.4 791.4V792.5M607.2 831.5V833.2M607.9 654.8V657.8M608.6 627.5V629.3M608.1 820.6V822.4M608.5 784.9V788.4M609.9 654V660.4M609.1 799.8V800.7M611.3 648.1V655.3M610.4 833.4V833.6M610.5 787.3V794.4M610.9 787.3V801.7M612.7 640.8V641.1M611.8 652.7V655.2M612.7 847.2V853.9M611.7 811.6V812.1M613.1 651.7V657.8M614.1 811.1V818.3M613.1 815.2V817.8M614.8 648.8V649.2M614.6 825.9V827.3M615 822.4V830.9M615.5 831.1V833M615.9 840.2V842.5M617 636.2V636.5M617.1 622.9V630.2M616.8 853.6V853.8M616.9 846.9V856.4M617.3 850.2V851.3M618.1 645.9V649.9M618.4 867.2V868.9M619.1 847V850M619.6 647.1V649.4M619.6 633.4V635.7M619.4 854.8V855.3M621.1 654.7V655.3M621.7 853.5V863.3M620.9 826.8V830M621.3 826.8V834.6M621.8 828.8V830M622.7 827.3V835.9M623 866.5V871.3M622 842.1V842.1M622.2 842.7V854.8M624.8 661.3V665.2M625.6 831.9V841.6M624.9 840V849.8M625.8 836.9V837.5M626.4 662.2V666.3M626.3 830.7V832.7M626.2 833.8V840.7M627.1 835.1V837.2M626.7 855.8V857.8M628 662.5V666.7M627.9 834.5V838.9M627.4 829.2V834.6M627.8 842.6V847M628.6 660.4V666.4M629.7 658V664.3M629.4 837.4V838.9M629 829.2V844.2M628.9 841.5V842.4M629.6 843.3V853M630 665.2V668.9M629.8 650.1V650.9M630.8 830.6V842.7M631.9 850.9V851.3M631.8 831.8V833.2M633.2 657.8V661.5M632.7 891.8V899M632.8 868.7V878.5M633.7 631V631.9M633.9 904.4V906.1M634.6 840.3V850.9M634.3 840.6V844.3M636.1 659.5V663.7M635.1 656.6V663.7M635.2 851.6V855M635.9 866.5V867.3M635.2 860.1V865.3M637.5 654.2V657.2M638.8 833.2V836.6M638.6 856.6V858.8M638.2 845.2V847.4M638.8 829.2V832.5M639.1 655.4V656.5M639.1 838.3V843.7M640.1 846.9V847.2M639.8 845.4V847.3M640.5 651.4V659.6M640.6 639.8V653.1M641.3 847.3V856.5M641.4 838.7V839.9M640.4 865.4V871.1M640.7 831.6V837.6M642.5 653V660.1M642 855.5V856.8M641.9 878.3V882.2M643.6 636.7V640.1M643.7 845V851.2M642.8 832.9V836M644.9 653.2V656.7M644.2 652.5V661.1M645.6 840.8V841.4M646.3 841.3V841.5M646 866.8V876M647.1 628.2V632.1M647.5 836.7V837.9M648.7 651.9V656.3M648.7 653.7V653.8M648.7 833.6V838.3M648.8 831.5V847.2M649.2 842.3V850M649.2 864V866.3M650.3 656.1V662.6M650.5 878.1V890.9M649.8 844.4V852M651.2 846.8V848.3M650.6 830.1V835M653 638V646M653.1 841.8V847.9M652.3 854.3V861.4M652.7 841.8V843.8M654 643.7V657.8M654.2 828.7V834.7M654.8 643.2V647.7M655.2 828.2V833.1M654.5 828.2V838.9M654.6 840.3V845.2M655.9 649.7V654.6M655.9 835.4V845.8M656.5 833.7V835.9M656.6 837.4V839.8M658.3 646.3V646.3M658 835.8V839.9M659.1 629.9V635.6M658.6 650.7V657.9M658.9 848.3V848.7M659.4 840.1V847.4M659.9 644.8V649.4M659.7 633.5V634.6M660.3 826.1V832.5M660.7 843.3V848.4M661.1 649.7V653.3M661.5 859.6V861.8M661.7 849.7V851.2M662.2 847.4V851.8M662 843.9V844.3M662.8 649.9V650.7M663.3 848.3V851.5M664.5 648.6V659.6M664 640.7V646.6M663.7 834.3V835.8M664.4 866.2V866.5M665.2 650.6V659.3M665.9 650.4V659.3M665.2 859.3V863M665.3 837.9V838M665 824.4V827.8M665.6 847V849.3M666.9 647.8V649.1M666.6 838.5V842.6M666.6 839.4V844.5M667.9 651.5V659.8M668.1 825.5V835.8M668.6 830.4V834.7M668.1 852V855M668.8 636.9V642.9M669.8 655.7V660M669.9 853.6V858.6M670.3 648.3V660.2M670.2 650.9V655.2M670.8 826.5V833.5M670.7 832.7V833.6M671.7 625.5V633.4M672 832.1V832.9M672.4 827V855.3M671.7 831.5V833.3M673.5 621.7V623.4M673.3 847.2V849.4M674.2 649.4V654.2M674.3 856.4V857.3M674.3 865.4V876.6M675.2 828.1V836.3M675.5 634.1V641.4M676.4 830.8V835.7M675.9 838.1V841.2M677.8 621V628.3M678 657.1V658M678.1 843.1V843.6M678 829.2V839.5M678.8 858V859.1M679.8 657.7V658.8M679.5 836.4V837.4M679.8 836.8V838.8M681.5 640.8V645.3M681.2 840.6V845M681.7 848V848.4M681.8 635.6V636.8M681.9 833.8V840.4M683.8 641.1V641.4M683.2 648.2V655.5M683.8 848.1V852.3M683.1 851.3V862.5M684.9 646V648.3M685 829.2V845.7M685 833.8V839.3M684.9 837V839.5M686.3 829.2V837.5M686.6 842.8V847.1M686.1 847.1V847.3M687.1 636.8V649.9M687.9 871.3V884.9M688.9 632.4V632.6M689.2 637.9V645.1M689.9 641.7V642.5M690.3 852.9V853.3M692 846.5V857.8M691.9 836.6V841.5M691 849.8V852.3M693.1 830.4V834M692.2 833.9V837.3M692.3 903.2V905.4M692.4 830.4V842.5M694.3 857.7V867.9M693.7 872.8V883.1M695.2 646.5V646.5M695.3 651.1V652.4M695.2 845.7V861.8M695.2 833.8V834.5M695.3 851.1V860.2M697.2 645.9V648.9M697.2 888.7V888.8M697.2 831.9V843M697.7 836.9V843.1M698.6 848.6V849.5M698.4 839.5V842.1M698.1 864.1V876.4M699.6 660.5V661M699.3 839.6V845.7M699.8 902.9V904.4M700.3 661V665.4M701.1 847.9V853.6M700.6 877.1V877.2M702.2 617.3V622.5M702.5 847.3V850.9M702.1 912.4V913.9M702.6 660.7V664M703 842.2V843.1M703.6 840.1V860.9M704.8 659.7V662.9M704.2 853.1V855.2M704.8 850.4V856M706.4 658.6V661.8M705.2 614.3V617.6M706.3 832.6V845.4M705.2 871.7V879.5M706.9 647.7V649.8M706.9 850.9V873.9M707 832V836.1M707.3 834.4V835.8M707.4 840.3V846.6M706.7 835V835.4M708.9 852.3V854.9M709.2 637.6V647.2M709.3 652.8V658.9M709.6 838.5V842.1M709.1 853.6V860.2M709.8 850.4V853M709.7 884V887.8M711.4 661.5V661.7M711 657.8V664.5M710.6 830.8V833.5M711.4 830V846M718.8 815V815.4M718.6 797.1V817.8M720.4 619.8V625.8M720 836V836.9M719.5 793.4V796.3M721.5 795.5V797.1M723.2 615V626.6M722.8 838.3V840.9M722.8 794.6V800M722.5 799.7V803.6M722.2 844.9V849.5M723.8 611.5V612.7M723.9 828V837.4M723.6 814V822.3M724.6 805.7V816.3M725.4 620.3V620.4M725.8 799.8V804.6M726.4 618.3V623.8M726.8 612.3V614.4M726.1 802.4V808.8M726.7 843.4V845.8M726.1 834.4V851.9M727.2 811.2V811.8M727.8 616.9V628.5M728.5 818.9V820.1M727.7 825.5V833.1M728.6 622V625.9M728.9 877.8V883M730.2 610.8V612.5M730.8 620.3V621.9M730.4 825.1V827.9M730.7 815.6V818.5M732.2 626.6V635.2M731.9 829.2V829.3M733.7 620.9V640.4M733.7 636.9V643.7M732.5 819.3V833.4M732.8 841.7V843.9M732.7 828.9V832.7M733.8 814.8V816.5M736.3 640.1V642.8M736 637V637.3M735.8 829.4V831.7M737 639.2V641.7M737.1 813.7V818.2M737 813.7V822.2M738.5 820.4V821.2M737.7 820.8V821M739.5 863.8V876.3M740.8 630.8V630.9M741.2 623.1V623.9M741.1 822.2V824.2M740.4 837.9V844.6M741 822.8V823.4M740.8 864.1V864.4M742.5 624.8V627.2M741.6 629.7V633.4M742.1 824.7V828.1M742.2 837V845.4M743.8 633V636.7M743.7 847.9V851.2M744 868.7V869.5M744.5 635.7V640.6M744.7 876.1V878.3M745.2 830.5V833.6M744.9 863V868.8M744.8 826.3V831.4M746.4 633.5V642.7M746.3 638.8V639.3M746.3 840.9V842.9M747.3 858.4V864.5M747.2 903.9V908.4M746.8 848.4V848.4M747.4 834.9V838.8M749.2 846.3V849.9M750.6 642.3V649.2M749.5 646.1V647.2M750.9 638.2V640.8M751.1 640.3V646.3M751.3 845.8V847.6M752.1 872.1V874.5M752.9 852.5V855M753.8 861.5V865.5M754.6 865.8V868.1M758.4 632.4V636.7M757.3 633.3V638.6M758.7 861.4V861.7M759.1 864.3V879.1M760.7 633.2V644.2M760.5 633.7V637.9M760 859.1V861.4M762.2 642.6V643.7M761.7 642.9V645.9M761.2 848.5V859.8M761.2 865.1V870.1M763 853.7V854.4M762.7 848.7V852.2M764.1 647.5V651.4M764.9 853.2V853.8M766.1 854.7V859.1M766 850V853.8M765.1 862.5V866.7M767 856.5V856.7M768.7 667.3V668.6M767.7 853.3V861.4M770.7 856.7V865.4M772.3 874.1V875M774.1 677.8V678M777.3 873.8V885.5M782.2 896.3V899.9M784.4 902.5V907M784.7 903.9V908.1M788.2 771V774.2M792.1 958.9V962.2M795.3 852.1V855.4M806.1 960.5V965.7M807.4 1016.3V1018.8M809.8 992.8V994.8M814.3 1025.5V1027.3M816.9 998.4V1002.1M822.4 1007.1V1007.9M824.9 1025.1V1028.2M837.5 1018.4V1023M837.8 1019.4V1023.3M842.3 1022.8V1026.2M842.5 1031.1V1031.6M843.6 1026V1026M710.5 656.5V664.7M711.3 843.7V852M711.6 857V857.8M711.3 879.1V883.4M717.9 617.2V618.6M717.5 784.8V788.7M718.3 805.7V809.1" stroke="#1f77b4" stroke-width="5.5"/><path d="M181.2 682.5h0M168.8 755h0M152.5 803.8h0M212.5 632.5h0M231.2 612.5h0M231.2 616.2h0M245 616.2h0M253.8 600h0M253.8 618.8h0M250 622.5h0M280 631.2h0M343.8 622.5h0M343.8 626.2h0M367.5 633.8h0M380 632.5h0M392.5 623.8h0M392.5 628.8h0M417.5 620h0M425 613.8h0M431.2 623.8h0M442.5 618.8h0M455 605h0M455 608.8h0M455 616.2h0M501.2 612.5h0M501.2 618.8h0M526.2 605h0M542.5 597.5h0M583.8 605h0M583.8 608.8h0M602.5 600h0M602.5 606.2h0M612.5 606.2h0M625 610h0M645 602.5h0M645 615h0M661.2 606.2h0M668.8 607.5h0M683.8 601.2h0M720 607.5h0M727.5 604.5h0M738.8 603h0M746.2 610h0M756.2 621.2h0M771.2 672.5h0M787.5 748.8h0M540 615h0M145 997.5h0M156.2 973.8h0M163.8 975h0M173.2 975h0M173.2 966.2h0M173.2 956.2h0M173.2 947.5h0M173.2 942.5h0M183.8 931.2h0M193.8 932.5h0M195.8 943h0M202 948.2h0M202 963h0M202 972.5h0M208.2 966.2h0M203.8 935h0M208.2 942.5h0M208.2 923.2h0M229.5 918.2h0M237 918.8h0M260 941.2h0M263.2 953.2h0M263.8 935h0M257 921.2h0M282.5 927h0M290.5 947h0M311.2 931.2h0M311.2 942h0M311.2 951.2h0M311.2 959.5h0M300 926.2h0M321.2 921.2h0M335 926.2h0M361.2 957.5h0M361.2 937.5h0M375 941.2h0M382.5 939.2h0M389.2 950h0M401.2 895h0M401.2 906.2h0M401.2 917.5h0M401.2 928.8h0M392.5 918.8h0M436.2 908.8h0M432.5 902.5h0M458.2 903.2h0M478.2 941.2h0M487.5 933.8h0M485.5 926.2h0M472.5 918h0M458.8 903.2h0M478.2 920h0M560.8 925h0M572.5 920h0M572.5 931.2h0M595 913.8h0M687.5 928.2h0M696.2 917.5h0M717.5 902.5h0M637.5 905h0M655.5 903.8h0M757.5 887.5h0M121.8 1000.5h0M124.5 863.6h0M124.3 996.7h0M128.8 1008.7h0M129.9 1009.9h0M134 1004.2h0M140.7 989.4h0M141.9 984.9h0M142.4 863.3h0M145.4 844.1h0M146.5 844.1h0M147.7 851.7h0M148.1 990.1h0M149.6 986.5h0M150.2 991.4h0M152 834.5h0M153 823.2h0M153.1 975.7h0M154.7 818.6h0M154 976.2h0M155.7 970.6h0M159.1 974.3h0M162.1 787.4h0M162.4 963.6h0M163.7 782.1h0M164.2 780.7h0M165.9 937.3h0M167 750.4h0M168.2 753.9h0M168.2 933.4h0M168.3 759.6h0M168.7 930.7h0M169.9 927h0M171.9 922.3h0M172.5 747.3h0M173 923.3h0M174.1 750.9h0M175.1 744.8h0M176.5 905.4h0M177.5 726.5h0M177.5 918.5h0M179.3 719.2h0M179.9 912.8h0M178.9 895.9h0M180.8 719.1h0M180.4 890.7h0M180.3 889.2h0M182.5 709.7h0M181.6 894h0M183 713.8h0M183.1 889.6h0M184.8 690.6h0M184.9 881.8h0M186.3 675.4h0M186.2 880.1h0M185.5 887.5h0M186.5 705.4h0M187.5 704.1h0M187.7 894.9h0M188.4 890.1h0M188.3 879.8h0M189.6 695.2h0M190 889.6h0M190 875.8h0M189.3 885.6h0M190.7 700h0M191.1 904.3h0M193.6 693.4h0M193.4 693.4h0M194 867.3h0M193 902.4h0M194.7 673.2h0M195 688.3h0M194.4 872.7h0M194.9 881h0M194.5 886.9h0M195.7 878.1h0M196.3 867.7h0M198.1 665.6h0M197.8 676.4h0M197.2 871.1h0M197.8 865.6h0M197.8 870.7h0M198.5 664.2h0M198.8 866.9h0M199.5 677.1h0M200 917.5h0M200.3 916.3h0M200.8 672.4h0M201.1 873.8h0M201.1 863.3h0M201.1 859.5h0M201.3 856.4h0M202.2 657.9h0M203.1 670h0M202.3 853.2h0M204.1 665.1h0M203.5 854.8h0M203.9 866.4h0M204.3 852.4h0M204.4 856.7h0M205.6 667.6h0M205.3 669.2h0M204.8 858.7h0M206.4 629.8h0M206.4 856.1h0M206.8 850.3h0M206.6 873.5h0M207.6 847.7h0M208.3 843.8h0M208.3 861.3h0M207.5 843.9h0M208.9 663.3h0M209 655.7h0M208.9 654.9h0M209.1 848.5h0M208.8 860.6h0M209.2 847h0M210.2 845.4h0M209.9 857.8h0M210.3 839.6h0M212 659.6h0M212.3 850.8h0M211.5 849h0M212 837.4h0M212.4 847.1h0M213.4 659.3h0M212.7 847.4h0M213.6 889.2h0M212.6 867.4h0M214.6 851.3h0M213.8 860.6h0M215 844.5h0M214.9 844.3h0M214.6 835.3h0M215.6 659.8h0M215.3 660.6h0M215.4 824.9h0M216.2 839.2h0M216 824.4h0M215.9 839.1h0M217 655.8h0M216.8 657.7h0M216.4 831.5h0M217.4 829.1h0M217.3 839.9h0M218.3 653.3h0M218.9 830h0M218 904.4h0M217.7 884.3h0M220.2 666.5h0M219.5 661.6h0M219.8 855.7h0M219 821.4h0M219.6 830.4h0M219.2 851.8h0M221.3 647.8h0M221 653.4h0M221.4 828.6h0M220.4 828.6h0M220.8 829.8h0M222.2 664.9h0M221.7 666.9h0M221.6 832.3h0M222 837.8h0M223.3 656.3h0M223.6 832.9h0M223 823.1h0M223.2 839h0M224.9 663.5h0M224.3 842.3h0M225.4 834.9h0M225.4 867.6h0M224.3 818.4h0M225.6 819.6h0M227.4 663.2h0M228 825.1h0M227.5 831.6h0M226.8 825.5h0M227.6 824.5h0M229 844.5h0M229 863.3h0M229.2 828.7h0M230.4 654h0M230.4 637.7h0M230.2 860.9h0M229.5 828.9h0M229.9 849.9h0M230.6 842.1h0M231.2 652.6h0M231.5 658.4h0M231.8 842.6h0M231.6 828.9h0M232.4 646.6h0M232 652.9h0M232.1 830.9h0M232.3 829.9h0M232.3 839.5h0M232.6 828.2h0M233.7 652.5h0M234.4 650.7h0M233.5 659.4h0M234 876.1h0M233.6 861.4h0M233.9 837.9h0M233.5 853h0M233.7 830.9h0M234.6 660.1h0M235.8 844.1h0M235.7 832.3h0M234.8 833.8h0M236.6 646.8h0M237 662.6h0M236.7 828.5h0M236.3 858.2h0M237.6 638.7h0M237.5 649.3h0M238.4 664.5h0M237.8 846h0M238.3 836.6h0M238.2 830.3h0M238.1 837.2h0M237.2 879.7h0M238.2 835.3h0M239.5 638.9h0M239.2 628.9h0M239.1 841h0M238.8 834.6h0M239.4 873.7h0M239.2 845.9h0M239 829h0M240.8 665.8h0M240.1 642.9h0M241 843.5h0M240 856.3h0M240.5 866.2h0M241.5 664.3h0M242 832.7h0M241.8 838.5h0M241.6 852.5h0M241.9 838.5h0M243.6 663.2h0M243.1 848.3h0M243.5 886h0M244 665h0M243.8 833.2h0M243.7 880.8h0M243.7 832.1h0M244.8 836.1h0M245.3 652h0M246.1 662.1h0M245 853.1h0M245.6 866.1h0M245.9 846.1h0M246.1 847.5h0M245.6 835.4h0M246.9 657.4h0M246.9 640h0M246.6 845h0M246.7 860.6h0M246.5 890.9h0M246.7 905.4h0M248.2 659.2h0M248.7 638.4h0M247.9 840.6h0M247.6 837.4h0M247.7 856.5h0M249 618.5h0M249.8 912h0M249.9 829.4h0M250.6 880.5h0M251.4 851.2h0M252.6 857.9h0M251.6 869.8h0M252.2 902.6h0M251.6 835.1h0M252.6 837.4h0M253.6 859h0M252.9 872.4h0M252.9 862h0M255 660.4h0M254.6 896.4h0M254.2 835.4h0M256.6 658.3h0M256 835.2h0M255.8 827.6h0M256.8 644.3h0M257.4 634.1h0M257.2 635.8h0M257.5 859.8h0M256.8 827.2h0M257 906.5h0M258.4 642.7h0M259.1 659.6h0M258 866h0M258.5 833.6h0M259.2 834.3h0M260.4 653.4h0M259.3 837.7h0M259.5 830.2h0M259.3 886.3h0M261.6 648.6h0M261.2 662.3h0M260.6 830.4h0M261.8 838.8h0M260.8 841.9h0M260.8 825.3h0M262.7 669h0M261.9 864h0M262.8 887.2h0M263.9 658.9h0M263.2 636.1h0M263.7 857.9h0M264.4 851.5h0M264.4 846.7h0M263.3 834.8h0M264.4 826.5h0M264.4 851h0M264.6 663.5h0M265.6 832.2h0M264.9 838.4h0M264.8 876.6h0M264.5 830.7h0M264.9 860.8h0M266.7 666.1h0M266.7 843.6h0M266.5 820.1h0M268.1 661.8h0M267.9 638.1h0M267.5 855.9h0M268.3 852.1h0M267.7 826.3h0M267.8 815.9h0M267.5 844.8h0M267.5 846.4h0M269 665.4h0M269.6 813.3h0M268.5 829.6h0M269.1 816.8h0M270.6 663.3h0M269.9 849.6h0M270 812h0M270.9 815.2h0M272.2 830h0M271.9 854.6h0M272.7 811.7h0M273.5 836.5h0M273.3 826.9h0M273.6 666.1h0M274.4 832.3h0M274.6 807.7h0M274.3 821h0M274.2 821.8h0M274.9 660.5h0M276 814.8h0M275.8 844.1h0M275 826.4h0M276.8 665.9h0M277 625.8h0M277.2 832.1h0M276.8 875.3h0M278.2 863.4h0M278.4 834.4h0M279.7 665.7h0M278.8 665.5h0M279.6 848h0M278.8 884.2h0M279.3 850.1h0M279.5 839.9h0M280.4 669.5h0M280.5 659h0M280.8 829.5h0M280.1 831.9h0M281.3 830.1h0M281.2 838.9h0M280.9 862h0M281.9 666.5h0M282.1 837.8h0M283.8 644.9h0M283.7 848.4h0M283.9 832.3h0M284.1 665.3h0M284.5 870h0M284.4 881.8h0M284.5 853.6h0M284.2 846.6h0M286.2 654.8h0M285.8 852.3h0M285.5 848.6h0M287.5 658.2h0M286.7 644.7h0M287.7 642.9h0M287 843.8h0M286.6 842.5h0M289.1 663.7h0M287.9 860.6h0M288 853.9h0M289.1 847.9h0M290 656.6h0M290 650.8h0M289.5 859.4h0M289.8 842.6h0M289.5 902.3h0M289.9 865.6h0M290.1 886.4h0M291 665h0M290.6 835.7h0M291.4 839.8h0M291.6 838.9h0M291.7 860.2h0M293 649.8h0M292.2 668.8h0M292.6 837h0M292.6 839.6h0M292 857.2h0M293.7 669.1h0M293.5 835.9h0M293.7 867.5h0M295.1 663.6h0M294.6 862.2h0M295.2 834.4h0M295.3 842.9h0M296.6 667.6h0M296.6 659.9h0M296.9 842.5h0M296.8 920h0M296.2 844.6h0M296.2 872.7h0M297.7 668.8h0M298 663.6h0M297.1 878.7h0M297.8 844.6h0M298.2 875.7h0M298.2 845.4h0M297.4 841h0M299.4 668.1h0M299.2 847h0M298.3 835.2h0M298.8 833.3h0M300 665.3h0M300.1 666h0M300 834.2h0M300.1 839.1h0M299.8 843.7h0M300.1 851.7h0M301.6 655.6h0M301.7 843.1h0M301.8 840.6h0M301.8 840.2h0M302.4 668.6h0M303.3 661.9h0M302.7 833.4h0M302.6 840.9h0M302.4 841.5h0M302.3 856.9h0M303.6 642h0M304.3 834.6h0M304 836.4h0M303.9 845.5h0M305 861.2h0M305.2 853.9h0M305.7 898h0M307.3 665h0M307.1 656.4h0M307.2 908.7h0M306.8 876.7h0M306.5 856.6h0M307.6 854.8h0M307.7 873.9h0M308.2 880.1h0M308.9 663.1h0M309.3 838h0M309.4 839h0M308.8 865.4h0M310.6 664.4h0M310.4 889.1h0M310.1 838.6h0M310.1 855.9h0M311.2 853.9h0M312.1 657.5h0M312.2 907.6h0M311.5 848.9h0M311.8 851.3h0M312.9 664.7h0M313.3 867.7h0M314.4 844.1h0M314.6 844.4h0M314.8 855.2h0M313.9 845.1h0M315.2 658.6h0M316.2 849.6h0M316.4 866.5h0M316.1 853.2h0M315.7 856.8h0M316.6 664.2h0M316.8 643.1h0M316.8 866.2h0M316.5 872h0M317 860.3h0M316.9 867.3h0M319 673.5h0M318.7 847.8h0M318 863.8h0M318.3 894.1h0M318.1 840.2h0M319.6 666.4h0M320.1 878.4h0M319.5 855.6h0M319.3 872.6h0M320.8 665.6h0M320.6 844.4h0M320.5 850.6h0M320.4 873h0M320.7 839.3h0M322.7 654.9h0M322.2 679.7h0M321.7 843.9h0M322.7 841.8h0M321.8 850.3h0M321.8 845.6h0M323.3 673.5h0M323.7 856.4h0M323.7 889.4h0M324.1 840.4h0M324 858.9h0M323.2 851.2h0M325.4 657.5h0M325.4 842.8h0M324.9 841.2h0M325.1 859.4h0M326.1 660.8h0M326.4 662.7h0M326 858.5h0M326 879.7h0M326.9 608.8h0M327.3 607.7h0M327.9 843.4h0M327.4 841.5h0M327.2 840.1h0M328 843h0M328.6 634.1h0M328.4 842h0M328.4 843.8h0M330.7 647h0M330 839.8h0M330.1 836.1h0M329.9 877.5h0M330.7 906.8h0M331.7 655.6h0M331.3 654.7h0M330.9 839h0M332 845.6h0M331.3 851.7h0M331.4 873h0M332.6 668.5h0M333 667.5h0M333.1 845.1h0M332.4 834.6h0M333.7 670.2h0M333.4 853.5h0M334.3 853.1h0M333.8 844.2h0M334.6 845.3h0M334.2 851.7h0M335.4 658.7h0M335.3 667h0M334.8 850h0M336 844.2h0M336.9 893.3h0M337.9 836.7h0M337.7 837.5h0M338.5 912.1h0M338.1 844.3h0M339.8 886.8h0M339.5 846.3h0M339 839.6h0M338.9 836.1h0M339.8 866h0M340.9 662.6h0M340.5 667.4h0M340.2 670.2h0M340.6 845h0M340 840.9h0M340.4 866.3h0M340.7 872.9h0M339.9 912.2h0M340.9 845.2h0M341.3 660h0M341.5 658.3h0M341.9 870.9h0M342.4 855h0M341.9 847h0M341.5 840.1h0M342.4 872.9h0M341.7 848.9h0M343.3 867.5h0M343.3 840.2h0M342.9 856.9h0M342.7 837.3h0M344 651.1h0M344.8 666.6h0M344.3 846.3h0M344.4 838.6h0M345.3 662h0M345.9 664.6h0M345.2 875.4h0M345.5 894.9h0M345.6 851.9h0M346 853.8h0M346.9 656.5h0M346.4 666.5h0M346.5 852h0M347.6 855.5h0M348.8 668h0M348.9 662.1h0M348.1 888.2h0M348.9 857.4h0M349.4 623.7h0M349.8 841.6h0M349.3 845.9h0M349.3 847.6h0M350.6 656.4h0M350.4 861.4h0M351.3 876.9h0M351.9 658.1h0M352.3 854.8h0M352.2 843.4h0M352.5 878.5h0M352.1 844.4h0M353 651.8h0M353.1 664.9h0M353.8 657.3h0M353.4 863.4h0M353.2 848h0M354 843.5h0M355.3 666.3h0M355.2 664.4h0M354.5 853.3h0M356.7 660.3h0M356.6 663h0M356.1 897.9h0M356.1 847.5h0M356.7 862.2h0M355.6 899h0M356.8 660.4h0M358 881.5h0M357.3 847.4h0M358.7 667h0M358.2 657.8h0M358.1 847.4h0M358.9 847.5h0M358.2 871.5h0M360.1 639.6h0M360.6 868.6h0M360.1 874h0M360.2 869.7h0M361.6 642h0M361.5 656.9h0M360.9 845.7h0M363.1 661.4h0M362.9 645.3h0M362.7 875.5h0M363.1 850h0M363.1 897.9h0M363.5 889.6h0M363.7 850.5h0M364.4 869.3h0M365.4 877.2h0M365.6 848.9h0M365.6 846.1h0M367 667h0M366.1 650.8h0M367.1 846h0M367 850.1h0M366.9 848.8h0M367 881.8h0M367.7 663.4h0M368.1 872.1h0M367.5 867.3h0M367.7 851h0M369.5 655h0M369.3 644.3h0M369.2 646.2h0M369.2 853.5h0M369.6 852.8h0M369.6 884.8h0M370.7 665.6h0M369.9 885.2h0M370.8 859.6h0M371.6 883.6h0M372.2 877.8h0M371.6 861h0M371.3 858.5h0M371.4 854h0M373.3 649.7h0M373.4 862h0M373.3 874.2h0M372.5 854.9h0M373.7 659h0M374 863.6h0M374.6 848.4h0M374.5 873.2h0M374.8 850.5h0M375.4 663.1h0M375.8 899h0M375.9 862.8h0M376.7 857.5h0M376.7 845.4h0M376.9 845.8h0M377.5 869.9h0M377.7 659.1h0M378.5 656.6h0M378.8 862.8h0M379.5 844.7h0M380.8 871.3h0M381.3 847.7h0M382.2 663.3h0M382 659.2h0M382.7 842.9h0M381.9 909.8h0M382.5 884.1h0M383.4 663.5h0M383.8 862.2h0M383.6 855.9h0M383.4 855.8h0M383.8 849h0M384.2 665.3h0M384.5 881.6h0M384.4 845.1h0M385.7 664.6h0M386.2 841.2h0M385.9 845.8h0M385.7 867.8h0M386.2 890.4h0M387 630.8h0M387.9 849.2h0M387.1 874.3h0M387.9 854.9h0M388.5 665.8h0M388.7 855.3h0M390.5 662.5h0M389.4 626.7h0M390.1 843.7h0M389.5 842.7h0M389.9 843.8h0M390.5 859.7h0M390.2 858h0M390.8 662.5h0M391.5 844.4h0M391.8 844h0M393 660.8h0M392.1 850.8h0M392 846.5h0M392.5 842.2h0M394 659.5h0M394.2 653.9h0M394.2 664.5h0M393.2 897.5h0M393.9 845.8h0M393.8 899.8h0M394.7 667.2h0M394.8 879.3h0M395.2 848.8h0M395.6 857.2h0M395.8 654.1h0M396.6 835.7h0M397 836.3h0M396 834h0M397.5 659.6h0M397.3 846.9h0M397.3 898.2h0M398.3 836.6h0M398.9 662.6h0M398.6 838.5h0M400.6 657.2h0M399.7 661.5h0M399.7 845.7h0M400.9 869h0M402.1 659.3h0M401.7 836.2h0M401.8 839.1h0M402 886.4h0M402.1 847.9h0M402.7 845.9h0M403.3 842.1h0M403.5 828.6h0M403.2 828.4h0M404.5 625.3h0M403.7 853.4h0M404.8 828.6h0M405.3 609.4h0M406.1 851.6h0M405 849.1h0M405.6 880.4h0M406.4 603.2h0M406.5 830.9h0M407.4 862.2h0M406.8 835.2h0M407.3 846.4h0M408.6 643.5h0M408.2 645.7h0M407.8 646.4h0M407.5 844h0M407.7 846.5h0M408.6 889h0M408.4 841.4h0M407.9 853.2h0M408.2 855.5h0M409.1 654.6h0M409.6 827.9h0M409.4 833.6h0M409.6 885.5h0M409.3 838.9h0M410.1 661.2h0M411.3 827.9h0M411.3 825.2h0M410.2 832.4h0M410.2 874.6h0M411.7 655.4h0M412.6 650.9h0M411.6 837.7h0M411.8 824h0M413.2 911.3h0M412.7 852.1h0M414 647.8h0M415.1 828.8h0M414.6 851.3h0M414.6 830h0M414.5 833.4h0M416.2 654.2h0M416.4 829.9h0M416.3 838.8h0M415.8 837.9h0M416 858.6h0M416.3 824.1h0M417.3 659h0M417.7 658.4h0M417.8 827.7h0M417.2 892.8h0M417.1 821.8h0M419.1 644.9h0M418 837.6h0M417.9 849.2h0M419.1 850.1h0M419.2 626.6h0M420.3 649.5h0M419.3 866h0M420 821.5h0M420.7 650.9h0M421.7 648.8h0M420.7 851h0M421.4 826.2h0M420.9 848.7h0M421.5 852.2h0M422.2 648h0M421.9 649.2h0M422.6 859.8h0M422 833.6h0M422.2 828.9h0M422.7 829.6h0M422.4 820.8h0M423.9 635.7h0M423.4 829.8h0M423.3 844.2h0M423.1 822.1h0M424.3 883.5h0M423.8 852.7h0M424.9 648.5h0M424.5 843.5h0M425 823.6h0M425.2 823.9h0M426.5 647.7h0M426.6 831.5h0M425.8 827.9h0M426.9 866h0M426 868.4h0M428 654.7h0M427.1 853.6h0M427 851.7h0M427.6 829.8h0M427.1 839.3h0M427.5 826.6h0M428.6 654.5h0M428.5 645.1h0M428.4 862.8h0M430.1 652.7h0M430.4 825.9h0M430.1 844h0M430.3 824.5h0M431.6 654.5h0M431.5 844.5h0M431.1 828.9h0M431.5 836.3h0M432.2 640.6h0M433.2 835.9h0M433 878.2h0M433 848.4h0M434 840.8h0M433.7 870.9h0M433.9 834.4h0M434.6 836.7h0M435.4 630.9h0M435.4 861.1h0M435 828h0M437 645.1h0M436.8 816.1h0M437.2 836.8h0M437.9 653.6h0M438.1 649.3h0M438.5 813.3h0M437.5 813h0M439 647.3h0M439.3 654.8h0M439.9 791.9h0M438.7 795.4h0M439.8 792.3h0M439.7 822.3h0M441.2 649.5h0M440.7 811.2h0M440.8 839.9h0M440.5 815.2h0M442.3 798.8h0M442.1 801.2h0M441.5 797.1h0M442.6 640.9h0M442.9 796.9h0M444.2 652.9h0M445 622.8h0M443.9 840.8h0M443.9 815.5h0M444 833.6h0M445.6 651.8h0M446.1 804.8h0M446.4 820.8h0M445.5 803.2h0M447.5 651.1h0M446.7 650.2h0M447.5 810.7h0M447.7 841.4h0M447.7 821.8h0M449 650.4h0M448.3 642.4h0M448.3 819.5h0M448 813.1h0M449.6 820.6h0M449.5 819.5h0M450.6 647.8h0M450.7 623.9h0M451.4 822h0M451.5 821.8h0M451.4 836.6h0M451.3 831.8h0M451.7 872.2h0M452.7 846.5h0M454 649.1h0M453.4 616.4h0M453.7 865h0M455.4 615.4h0M454.8 894.2h0M454.7 855h0M454.5 825.7h0M456.2 646.6h0M456.1 836.8h0M455.9 827.6h0M455.8 855.3h0M456.9 643.4h0M457.4 828.7h0M457.1 829h0M457 873.9h0M458.3 652.2h0M458.6 649.6h0M458.6 835.5h0M459.7 641.2h0M460.1 632.8h0M460.6 620.8h0M459.6 829.2h0M459.7 839h0M460.2 834.5h0M460.7 831.6h0M461.9 650.2h0M460.8 853.4h0M461.9 835.8h0M462 838.7h0M462.5 653h0M462.4 847.8h0M463.1 841.5h0M462.7 910.5h0M464.6 642.8h0M463.6 831.3h0M463.7 845.7h0M465 648.7h0M464.9 840.3h0M464.7 853.5h0M466.2 647.4h0M466.6 888.4h0M467.9 615.5h0M467.3 648.1h0M467.9 883.8h0M467.4 857.5h0M469.6 623.3h0M468.7 641.1h0M468.6 863.6h0M470 653.9h0M470.1 840.4h0M470.5 847.3h0M470.4 886.8h0M471.4 654.4h0M472.3 648.1h0M472.4 642.3h0M471.7 855.9h0M472.1 856.5h0M471.4 847.1h0M472.7 652.2h0M472.6 643.6h0M472.6 846.8h0M473.5 856.4h0M474.2 651.4h0M474.3 625.5h0M473.8 856.6h0M474.8 841h0M475.3 647.7h0M476.1 859.9h0M476 850.9h0M475.5 851h0M477.6 650.9h0M477.1 860h0M476.7 841.1h0M476.6 873.7h0M476.8 841.3h0M477 864.6h0M477.9 904.9h0M478.5 840.7h0M479.2 650.2h0M479.5 860.6h0M479.9 881.6h0M480 840.9h0M479.2 840.6h0M479.7 881.3h0M481.3 650.9h0M480.7 648.5h0M481.4 842.9h0M482.3 846.5h0M482.1 857h0M484.1 854h0M484.4 641.7h0M484.7 652.2h0M485 857h0M485.3 895.7h0M486.1 857.5h0M486.5 844.8h0M485.8 858.4h0M486.8 649.5h0M487.9 857.5h0M487.5 849.9h0M487.4 846.4h0M487.6 885.7h0M488.4 645.8h0M488.2 859.8h0M488.2 852.2h0M489.1 849.8h0M490.1 862.8h0M490 863.8h0M489.9 887.2h0M490.6 861.3h0M491.2 650.2h0M491.7 854.3h0M491.6 898.8h0M491.9 850.6h0M490.7 870.6h0M492.1 652.8h0M492.7 849.8h0M492.9 853.4h0M492.9 875.5h0M494.1 645.9h0M493.8 860.2h0M494.3 849.4h0M494.3 864.7h0M493.8 884.4h0M495.3 632.4h0M494.7 845.5h0M494.8 845.4h0M495 862h0M496.8 641.3h0M496.1 838.9h0M496.4 853.2h0M497.2 625.1h0M497.7 851.1h0M497.7 867.8h0M499.4 651.4h0M498.7 869h0M499.3 850.4h0M499.1 840.5h0M499 836h0M499.9 651.2h0M500.3 839h0M499.9 856.8h0M501.5 640.2h0M501.3 842.7h0M502.3 842.7h0M502.2 853.8h0M501.7 859.9h0M504.9 644.7h0M504.9 843.1h0M504.4 842.5h0M505 651.9h0M505 860.6h0M506.1 859.4h0M506.2 848.1h0M505.1 862.9h0M507 651.9h0M506.7 886.6h0M506.5 838.5h0M508.3 648h0M507.6 633.2h0M508.6 844h0M507.6 854h0M508.8 843h0M509.2 634.4h0M510 840.6h0M509.5 891.3h0M509.6 845.1h0M510.3 652.7h0M510.4 865.3h0M510.6 896.4h0M510.9 860.4h0M512.7 644.2h0M511.5 655h0M512.5 870.3h0M512.5 869.9h0M513.5 869.9h0M515.2 650.9h0M514.4 845.8h0M514.1 847.8h0M515.6 880.7h0M515.4 861h0M515.7 876.1h0M515.9 865.8h0M516.9 857.8h0M517.1 843.8h0M517.2 878.3h0M516.7 865.8h0M518.9 862.1h0M518.2 843.5h0M519.7 644.3h0M519.6 854.5h0M521 648.3h0M520.8 642.8h0M521.2 849.4h0M520.8 842.3h0M521.7 847.6h0M521.4 845.1h0M522.8 649.6h0M521.9 617.5h0M522.4 650.7h0M522.8 852.9h0M522.9 841.5h0M522.6 840.2h0M524.3 614.1h0M523.4 846.1h0M524.8 651.1h0M525.1 838.8h0M524.6 843.2h0M525.2 857.8h0M525.1 843.9h0M526 640.6h0M526.7 864.5h0M525.8 838.6h0M526.8 841.4h0M526.7 872.2h0M527 867.7h0M527.8 633.8h0M527.2 833.4h0M527.6 865.1h0M527.7 845.4h0M527.3 857.4h0M529.5 655.8h0M528.6 868.4h0M529.6 843.6h0M528.9 881.8h0M529.1 850.4h0M530.3 625.9h0M530.2 843.7h0M530.9 851.6h0M530.4 837.1h0M531.4 637.4h0M531.8 664.8h0M531 830.4h0M531.9 848.9h0M532.9 834.3h0M533.4 837.3h0M534.6 670.4h0M534 653h0M534.5 859.9h0M533.9 841h0M534.5 826.5h0M534.2 837.8h0M535.1 624h0M535.5 858h0M535 826.7h0M537.2 824.1h0M536.4 842.4h0M536.5 851.5h0M537.6 635.8h0M538.1 832.7h0M538.5 866.4h0M538.1 824h0M540 643h0M538.8 632.8h0M539 826.8h0M540.4 624.3h0M540.4 840.2h0M541.9 642.4h0M542.2 632.1h0M541.5 831h0M542.5 838.6h0M543.4 630.9h0M543.6 826.8h0M542.7 861.1h0M544.9 641.5h0M544.8 871.5h0M545 834.8h0M544.1 833.4h0M545.8 616.6h0M546.5 823.3h0M545.8 828.1h0M546.3 853h0M546.1 827.7h0M547.2 640.6h0M546.9 616.2h0M547.6 826.6h0M547.4 829.3h0M547.1 840.8h0M548.1 621.5h0M548.2 827.7h0M548.6 829.3h0M548.7 829.9h0M548.3 885.1h0M549.3 640.7h0M549.3 838h0M550.1 829.2h0M549.8 876.9h0M550.2 857h0M550.9 611.1h0M551.1 842.6h0M552.9 623.5h0M552.4 829.5h0M552.1 838.4h0M554.1 633.6h0M554 830.7h0M553.2 844.8h0M554.3 855.7h0M555 896.2h0M555.4 850h0M556.3 830.5h0M556.7 840.2h0M556.2 834.2h0M558.2 838.3h0M558 833.1h0M557.6 839.1h0M559.1 852.9h0M560.1 627.4h0M560.6 838.2h0M561.8 649h0M561.3 630.3h0M561.8 856.4h0M561.1 840.7h0M562.5 644.3h0M563.1 833.4h0M562.7 863.2h0M562.5 836.1h0M563.4 869.5h0M564.5 621.7h0M563.6 856.9h0M564.3 854.1h0M564.5 837.7h0M565 880.7h0M564.9 846.5h0M565.6 837.5h0M565.9 868.3h0M565.7 854.7h0M567.3 645.9h0M566.3 651.2h0M567 850.2h0M566.3 834.4h0M566.4 861.9h0M566.4 837.5h0M567.6 859.6h0M568.6 835.8h0M568.5 837.2h0M569 649.3h0M569.6 634h0M569 844.7h0M569.3 837.3h0M569.9 837.1h0M570.9 631.5h0M570.9 843.9h0M570.1 858.6h0M571.3 655.4h0M571.7 639.5h0M571.3 846.6h0M571.7 846.8h0M573 642.8h0M573.1 836.1h0M573.2 844h0M574.2 643.1h0M575.1 842.8h0M574.7 848.2h0M574.3 865.7h0M576.4 657.4h0M575.4 860.8h0M575.3 836.9h0M577.2 636.5h0M577.5 646.5h0M576.9 890.3h0M576.6 838h0M577.6 833.2h0M576.8 864.6h0M578.6 657.5h0M578.9 841h0M578.2 849.4h0M578.3 844.6h0M579.5 838.9h0M580.1 858.8h0M580.6 653.4h0M580.4 651.3h0M581.6 876.2h0M580.7 849.6h0M582.5 646.1h0M581.7 845.6h0M582.1 861.4h0M583.9 650.7h0M583.8 648h0M583.2 883.4h0M583.7 845.1h0M584.5 649.7h0M585 636.1h0M584.9 650.9h0M585.5 840h0M585.2 893.8h0M586.2 841.2h0M585.7 863.7h0M588 637.2h0M588.1 872.8h0M587 863.7h0M587.8 855.9h0M586.9 847h0M587 886.5h0M588.8 639h0M589.3 849.6h0M589.1 848.8h0M589.8 626.1h0M590.1 645.4h0M592 902.6h0M592 875h0M591.3 926.5h0M593.2 630.6h0M592.5 629h0M593.1 867.1h0M592.9 884.2h0M593.1 862.8h0M592.1 865.3h0M594.5 654h0M593.5 902.3h0M594.4 892.5h0M593.9 894h0M593.6 877.4h0M595.3 931.9h0M595.1 876.9h0M595.1 895.8h0M596 898h0M597 866.5h0M597.2 868.6h0M596.2 873.3h0M597.7 650.4h0M597.9 865.5h0M597.8 883.6h0M597.3 870.3h0M599.2 650.8h0M599.4 853.9h0M599.8 874.1h0M599.1 848.4h0M599.8 845.2h0M600.5 657.8h0M600.2 662.2h0M600.3 828.5h0M600.9 835.6h0M601.6 654.2h0M602.1 651.4h0M601.8 825.5h0M602.4 845.9h0M603.5 655.7h0M603.6 809.2h0M603.6 824.1h0M604 808.4h0M604.5 804.6h0M604 814.1h0M605.7 641.7h0M605.7 797.7h0M605.2 799.3h0M607.2 631.7h0M606.8 854.8h0M606.9 812.7h0M608.3 821.4h0M608.7 810.5h0M608.5 805.5h0M610.1 637.8h0M610.1 785.7h0M609.5 792.2h0M609.1 807.4h0M609.1 784.2h0M611 644.8h0M611 790.9h0M610.8 806.8h0M612.5 820h0M612.6 862.5h0M612.6 803.5h0M613.3 640.5h0M613.1 826h0M613.5 818.8h0M614 824.7h0M614.3 649.7h0M615.4 650.5h0M614.4 830.3h0M614.8 870.4h0M615.3 851.3h0M616.5 653.8h0M616.6 648.4h0M616.4 650.3h0M615.8 830.6h0M616.6 834.3h0M615.8 840h0M617.1 862.5h0M617.4 836.8h0M618.8 643.3h0M619 851.5h0M619 832.3h0M618.3 872.3h0M620.2 842.8h0M619.6 855.1h0M619.6 829.6h0M619.9 850h0M620.9 644.6h0M623 645.1h0M622.5 653.1h0M622.8 836.5h0M623.5 660.2h0M623.6 655.5h0M624.3 855.6h0M624.1 838.4h0M623.9 870.1h0M624 846.5h0M623.8 834.9h0M625 652.8h0M625.3 832.9h0M625.5 857.4h0M626.5 658h0M626.3 656.4h0M626.3 856.9h0M628 638.4h0M627.4 838.1h0M627.5 835.7h0M628.5 836.3h0M631 843.5h0M630.1 839h0M630.3 850h0M630.8 840.8h0M631.6 617.5h0M631.4 643.9h0M631.4 862.7h0M631.6 834.7h0M631.1 839.6h0M632.6 656.9h0M633.1 848.4h0M633.4 847h0M632.4 859.1h0M634.5 654.3h0M633.7 832.9h0M634.1 839.1h0M635.9 854h0M635.2 869.1h0M637.2 639.4h0M637.1 849.4h0M636.3 841.6h0M637.2 833.1h0M637.1 871.9h0M637.5 838.9h0M638.6 652.5h0M638.3 648.8h0M639.8 655.5h0M639.7 846.8h0M639.9 836.4h0M640.6 856.1h0M642.5 656.5h0M642.7 875h0M643.3 654.4h0M642.8 878.7h0M643.1 859.1h0M642.9 861.3h0M644.1 643.8h0M644.5 897.4h0M644.8 865.9h0M644.6 902.4h0M644.5 845.4h0M645.3 835.3h0M645.4 633.4h0M646.3 621h0M646.3 644.9h0M645.9 879.3h0M645.9 834.6h0M647.3 655h0M647.2 649h0M647.9 832.3h0M647.4 852.5h0M647.9 901.5h0M647.5 853.1h0M649.2 649.6h0M649.1 874.4h0M649.4 646.4h0M649.6 835.7h0M649.5 847.6h0M650.5 833.9h0M651.2 658.5h0M650.7 852.7h0M650.9 839.4h0M650.8 835.9h0M652.6 658.4h0M653.1 832.7h0M652 848.4h0M654 654.9h0M653.5 840.6h0M653.3 845.6h0M653.4 868.7h0M653.4 847.2h0M655.3 646.5h0M654.9 841.7h0M654.5 839.1h0M656.5 659.1h0M656.3 844.9h0M656.9 839.6h0M657.5 642.7h0M657.5 854.7h0M657.9 834.6h0M658.1 833.1h0M659 616.2h0M659 854.7h0M658.7 837.7h0M659.1 872.8h0M660 840.3h0M660.8 873.6h0M660.9 854.3h0M662.2 638.3h0M661.9 873.8h0M662.4 644h0M663 852.6h0M663.3 836.9h0M662.6 829.9h0M662.3 840.8h0M664.8 650.1h0M663.9 841.7h0M664.1 855.4h0M664.3 830.1h0M666 887.8h0M666.5 644.5h0M667.1 847.6h0M666.6 830.5h0M667.3 852.9h0M667.8 645.9h0M668.2 851.9h0M670 858.9h0M669.9 873.8h0M669.3 833.6h0M668.9 847.9h0M670.7 843h0M670.3 836h0M670.8 832.4h0M671.4 644.3h0M671.8 850.5h0M671.4 848.2h0M673.9 656h0M673.6 859.7h0M673.1 834.6h0M672.7 853h0M673.2 832.4h0M674.5 631.5h0M674.8 653.3h0M674.7 841.6h0M674.5 862.2h0M675.6 651.9h0M676 836.3h0M675.9 832.6h0M675.8 839.2h0M677.4 632.5h0M677.6 881.1h0M677.5 844.5h0M676.6 836h0M677.7 833.5h0M677.9 652h0M679 634.9h0M678.2 834.1h0M678.6 833.7h0M679.5 658.1h0M680 865.9h0M680.1 862.3h0M679.9 847.9h0M681.6 653.1h0M680.9 835.8h0M680.6 840.5h0M681.2 844.1h0M681.8 654.9h0M682.3 833.9h0M682.2 836.7h0M682.8 855.2h0M684.2 877h0M683.2 887.2h0M684 879.3h0M685 648.7h0M685.2 836h0M685.2 844.3h0M686 648h0M686.9 625.1h0M686.3 621.1h0M686 858h0M686.1 835.5h0M687.2 649.5h0M688.1 873.5h0M687.5 844.2h0M687.6 834.6h0M687.1 854.5h0M689.2 649.7h0M689.1 844.5h0M688.4 853.1h0M689.2 862.6h0M688.6 850.2h0M688.6 903.8h0M690.2 630.4h0M689.7 846.1h0M690.7 837.7h0M690.7 833.3h0M691.7 645.6h0M691.9 645.1h0M691.7 615.9h0M691.7 844.2h0M691 889.7h0M692.3 652.2h0M692.8 638.8h0M692.3 641.7h0M693.2 836.4h0M694.2 641.4h0M694.4 654.3h0M693.5 904.8h0M693.5 861.3h0M694 862h0M695.7 881.3h0M695.1 857.4h0M697 658h0M696.1 843.3h0M696.4 853.5h0M696.4 844.1h0M697.4 651.8h0M697.5 638.4h0M699.5 660.1h0M699.7 649.4h0M699.9 845.5h0M699.7 871.6h0M698.8 857.8h0M700.4 639.5h0M700 857.2h0M700.6 842.5h0M700.1 849.5h0M701.9 661.1h0M702.3 869.3h0M702 854.3h0M702.1 850.5h0M702.7 658.6h0M703.6 841.3h0M702.9 852.1h0M704.3 638.8h0M704.2 852h0M705.1 844.2h0M704 866.8h0M705.6 860.5h0M706.2 846.2h0M705.3 838.4h0M707.3 648.4h0M708.8 646.7h0M707.8 647.2h0M708.8 863.1h0M708.2 844.7h0M708.6 852.4h0M708.1 854.2h0M709.8 836.1h0M711.2 833.2h0M710.4 842.6h0M710.7 862.1h0M718.9 615.2h0M719.3 626.2h0M719.1 798.7h0M718.7 794.7h0M718.7 791.2h0M720.4 618.3h0M720.7 619.3h0M720.6 815.5h0M720.7 858.5h0M719.5 799.3h0M721.4 821.1h0M720.9 831.7h0M721.5 829.8h0M722.3 620.4h0M723.2 812.1h0M724.6 622.9h0M724.2 807.3h0M723.8 819h0M724.9 622.5h0M725.1 805.2h0M724.9 820.3h0M724.8 868.2h0M727.1 813.2h0M727.4 619.8h0M728.5 815.3h0M727.4 880h0M727.4 814.4h0M729.5 621.8h0M728.7 824.6h0M728.7 814.5h0M729.4 813.1h0M729.7 814h0M731.1 842.5h0M730.2 810.3h0M730.1 863.4h0M732.4 606.3h0M732.1 850.7h0M731.6 841.5h0M732 862.6h0M731.7 816.9h0M733.2 814h0M733.2 833.1h0M735 631h0M734.1 624.4h0M734 814.3h0M734.6 827.6h0M735 816.4h0M735 826h0M735.8 816h0M736.3 837.3h0M735.8 828h0M735.5 840h0M737.4 629.2h0M736.5 833.7h0M736.8 858.5h0M737.9 630.3h0M738.9 635.9h0M737.7 821.9h0M738.6 848.7h0M739.2 627.1h0M740.2 637h0M740 822h0M739.8 830.4h0M739.7 824h0M740.9 822.7h0M742.1 849.7h0M742.6 827.1h0M741.8 828.7h0M743.5 627.2h0M743.3 629.1h0M743.7 833.9h0M744 857.1h0M742.9 842.6h0M745.2 598.8h0M744.7 846.1h0M745.6 842.5h0M746.6 860.7h0M745.5 836.6h0M747.3 614.4h0M747.4 641.6h0M748 837.2h0M749.3 643.6h0M748.1 634.9h0M749 844.6h0M748.2 843.7h0M749.3 870.1h0M748.8 876.5h0M750.1 852.5h0M749.4 850.1h0M750.6 912.7h0M749.5 856.9h0M751.4 849.4h0M751.9 885.9h0M751.2 884.9h0M752.4 636.2h0M753.2 617.2h0M752.8 849.9h0M752.3 856.3h0M753.8 636.7h0M753.4 849.8h0M753.8 886.6h0M754 852h0M754.9 634h0M755.7 627.3h0M755.4 853h0M755.2 858.2h0M754.8 861.7h0M756.6 632.3h0M756.7 621.6h0M756.2 856.1h0M756.3 883.6h0M756.2 850.5h0M756.8 884.7h0M757.6 853.1h0M758.2 863.8h0M757.2 852.4h0M759.5 634.8h0M759.3 634.5h0M759.7 873.1h0M760 853.7h0M760.4 867.9h0M761.7 852.1h0M762.2 868.5h0M763.1 648.9h0M763.3 646.8h0M762.5 864.8h0M764.8 853h0M763.8 867.9h0M765.5 662.3h0M766.7 674.8h0M767.3 854.7h0M767.2 857.5h0M768.1 885.1h0M769.6 864.3h0M769.9 882h0M770.1 862h0M771.1 865.8h0M772.7 864.4h0M773.6 684.8h0M773.5 874.4h0M772.8 884.8h0M774.2 869.1h0M774.1 870h0M776.1 885.9h0M775.4 873.6h0M778 876.3h0M779.8 894h0M779.4 890.1h0M781 900.6h0M787.7 914.8h0M789.6 933.2h0M824.5 1029.6h0M827 1030.1h0M830.7 1017.9h0M831.9 1017.5h0M833.9 1029.9h0M835.9 1017.6h0M840.5 1019.9h0M845.3 1026.7h0M849 1026.4h0M711.2 635.6h0M710.9 654.5h0M710.9 840.9h0M710.8 908h0M717.9 623.6h0M717.7 789.7h0M718.3 791.5h0M851.2 1028.3h0M1454.4 1029.7h0M1453.6 1025h0" stroke="#1f77b4" stroke-width="5.5"/><path d="M116.2 965L120 987.5L122.5 890L123.8 932.5L126.2 940L129.5 986.2L132 952.5L133.8 970L136.8 930L138.8 942.5L141.2 917.5L143 950L145 915L146.8 950L149.2 955L153.8 885L156.2 906.2L158.8 897.5L160 868L164.5 836.2L167.5 855L171.2 847.5L173.8 857.5L176.2 810L179.5 827.5L181.2 802.5L183.2 830L186.2 800L188.8 791.2L191.2 815L193 792.5L195 817.5L197.5 781.2L198.8 787.5L200 756.2L202.5 805L203.8 775L205.5 826.2L208 750L211.2 715L213.8 745L217.5 755L220.8 741.2L225 780L227.5 733.8L229.2 790L231.2 703.8L233 743.8L234.5 732.5L236.2 780L238.8 735L241.8 765L245 727.5L247.5 733.8L250.8 772.5L254.5 720L258.8 787.5L261.2 755L265 777.5L267 757.5L270 713.8L273.8 758.8L275.8 733.8L278 757.5L279.2 737.5L281.8 781.2L283.8 740L285.5 753.8L287 730L288.8 782.5L292 801.2L295 757.5L299.2 725L303 767.5L305 731.2L310 797.5L312 735L315 778.8L317 766.2L322 803.8L324.2 762.5L325.8 802.5L328.2 662.5L331.2 803.8L333.8 770L335.8 778.8L339.2 742.5L341.2 770L343.2 722.5L346.2 783.8L347.5 767.5L350.8 781.2L353.8 765L355 772.5L357.5 750L360.5 790L362.5 741.2L364.5 772.5L366.2 743.8L368 766.2L369.5 750L372.5 797.5L374.2 760L376.8 786.2L380 721.2L386.2 795L388.8 735L390.8 763.8L392.5 745L396.2 725L398.2 770L399.2 742.5L401.2 777.5L403.2 708.8L404.5 727.5L405.5 713.8L407 730L410 772.5L415 726.2L418 728.8L420.8 772.5L424.2 706.2L427.5 738.8L428.8 733.8L430.5 745L432.5 717.5L435.8 782.5L438.8 707.5L441.2 697.5L443.8 712.5L445 711.2L447 757.5L448.8 732.5L451.2 703.8L454.5 747.5L456.2 723.8L459.5 772.5L460.5 755L462.5 773.8L465 740L467 737.5L469.5 723.8L471.8 770L473.8 740L475.8 745L478 793.8L480.8 705L483.8 768.8L485.5 750L488.2 777.5L490 770L493.8 715L496.2 716.2L498.8 745L500 736.2L502.5 776.2L505.5 737.5L507.5 730L508.8 738.8L511.2 710L513.8 765L515 750L516.8 793.8L519.2 731.2L520.5 753.8L522.5 723.8L525 735L527.5 750L530.8 791.2L533 761.2L535 783.8L537 705L539.2 725L540.8 717.5L543 735L544.2 725L546.8 747.5L548.2 732.5L551.2 710L553.8 747.5L556.2 647.5L558.8 772.5L560.8 755L561.8 765L564.2 686.2L566.2 702.5L567.5 698.8L570 757.5L571.2 738.8L573 768.8L575 750L577.5 761.2L580 750L582.5 717.5L585.8 688.8L588.8 720L591.2 760L594.5 805L598 760L600 755L602.5 746.2L607 692.5L608.8 705L610 702.5L612.5 715L613.8 711.2L615.8 766.2L619.5 710L621.8 767.5L623.8 728.8L626.2 783.8L628.8 783.8L631.2 725L633.8 735L634.5 718.8L636.2 750L637.5 738.8L641.2 773.8L644.5 721.2L646.2 765L648 726.2L649.5 735L652.5 772.5L654.2 757.5L655.5 763.8L658.8 730L661.2 703.8L663.2 707.5L665 703.8L666.8 717.5L668.8 720L672 746.2L675.8 722.5L677.5 758.8L680.8 708.8L682 725L683.8 708.8L687.5 753.8L689.5 750L691.2 772.5L693.8 745L696.2 767.5L698.8 782.5L701.8 758.8L704.5 710L706.2 747.5L707.5 735L709.5 747.5L710.8 735L712.5 750L714.2 765L715 872.5L715.8 765L717 695L718.8 666.2L720 671.2L722 700L723.8 670L726.2 705L728.8 747.5L732.5 768.8L736.2 711.2L738.8 691.2L741.2 725L743 717.5L745.5 703.8L748.8 760L751.2 747.5L752.5 751.2L753.8 737.5L755.5 717.5L758 750L759.5 730L762.5 747.5L764.2 758.8L766.8 803.8L768.2 758.8L770.5 786.2L772.5 752.5L774.2 772.5L776.2 767.5L778.8 782.5L781.2 842.5L783.8 843.8L786.8 845L787.8 860L790 882.5L790 893.8L791.9 882.5L793.1 910L794.4 927.5L799 945.6L801.2 976.2L803.1 974.4L805 990L807.5 1003.8L813.1 1022.5L816.2 1009.4L821.2 1025.6L823.8 1021.2L825.6 1029.4L830 1027.5L831.2 1021.9L833.8 1029.4L838.8 1027.5L841.9 1031L844.4 1028.8L847.5 1030.6L852.5 1028.5L1449 1029L1451 1026L1452 1032.4L1454.4 986L1456.9 1001.7L1459.2 981.9L1461.5 982.6" stroke="#ff7f0e" stroke-width="2.3" stroke-linecap="butt"/></g><rect x="115.5" y="575.5" width="1347.1" height="478.9000000000001" fill="none" stroke="#000" stroke-width="1.11"/><path d="M115.7 1054.4v4.9M284.1 1054.4v4.9M452.4 1054.4v4.9M620.8 1054.4v4.9M789.2 1054.4v4.9M957.6 1054.4v4.9M1126 1054.4v4.9M1294.3 1054.4v4.9M115.5 606.4h-4.9M115.5 660.8h-4.9M115.5 715.2h-4.9M115.5 769.6h-4.9M115.5 824h-4.9M115.5 878.4h-4.9M115.5 932.8h-4.9M115.5 987.2h-4.9M115.5 1041.6h-4.9" stroke="#000" stroke-width="1.11" fill="none"/></g>
<g font-size="21.1" text-anchor="end" letter-spacing="0.3"><text x="105.1" y="52.1">2.0</text><text x="105.1" y="109.8">1.5</text><text x="105.1" y="167.5">1.0</text><text x="105.1" y="225.3">0.5</text><text x="105.1" y="283">0.0</text><text x="105.1" y="340.7">−0.5</text><text x="105.1" y="398.4">−1.0</text><text x="105.1" y="456.2">−1.5</text><text x="105.1" y="513.9">−2.0</text><text x="105.1" y="615">0.08</text><text x="105.1" y="669.4">0.07</text><text x="105.1" y="723.8">0.06</text><text x="105.1" y="778.2">0.05</text><text x="105.1" y="832.6">0.04</text><text x="105.1" y="887">0.03</text><text x="105.1" y="941.4">0.02</text><text x="105.1" y="995.8">0.01</text><text x="105.1" y="1050.2">0.00</text><text font-size="22.3" letter-spacing="0" transform="translate(113.5 1078.7) rotate(-30)">09-21 00</text><text font-size="22.3" letter-spacing="0" transform="translate(281.9 1078.7) rotate(-30)">09-21 03</text><text font-size="22.3" letter-spacing="0" transform="translate(450.2 1078.7) rotate(-30)">09-21 06</text><text font-size="22.3" letter-spacing="0" transform="translate(618.6 1078.7) rotate(-30)">09-21 09</text><text font-size="22.3" letter-spacing="0" transform="translate(787 1078.7) rotate(-30)">09-21 12</text><text font-size="22.3" letter-spacing="0" transform="translate(955.4 1078.7) rotate(-30)">09-21 15</text><text font-size="22.3" letter-spacing="0" transform="translate(1123.8 1078.7) rotate(-30)">09-21 18</text><text font-size="22.3" letter-spacing="0" transform="translate(1292.1 1078.7) rotate(-30)">09-21 21</text></g><text x="784.3" y="30" font-size="26.7" text-anchor="middle">2.5 MHz N0000002</text><text x="116" y="30" font-size="26.4">(a)</text><text x="116.6" y="566.9" font-size="26.4">(b)</text><text x="789" y="1158.8" font-size="22.2" text-anchor="middle">UTC</text><text transform="translate(37.7 278.4) rotate(-90)" font-size="22.2" text-anchor="middle">Doppler Shift [Hz]</text><text transform="translate(40 814.6) rotate(-90)" font-size="22.2" text-anchor="middle">Peak Voltage [V]</text>
<g id="legend-a"><rect x="1047.4" y="48.6" width="406.3" height="79.3" rx="2.8" fill="#fff" fill-opacity="0.8" stroke="#ccc" stroke-opacity="0.8" stroke-width="1.39"/><circle cx="1073.2" cy="63.6" r="2.78" fill="#1f77b4"/><path d="M1053 101.8H1092.2" stroke="#ff7f0e" stroke-width="2.1" fill="none"/><g font-size="18.5"><text x="1106.6" y="69.2">Raw Data</text><text x="1106.6" y="95.6">Butterworth Filtered Data</text><text x="1106.6" y="117">(N=6, Tc=3.3333 min, Type: low)</text></g></g>
<g id="legend-b"><rect x="1047.4" y="585.6" width="406.3" height="79.3" rx="2.8" fill="#fff" fill-opacity="0.8" stroke="#ccc" stroke-opacity="0.8" stroke-width="1.39"/><circle cx="1073.2" cy="600.6" r="2.78" fill="#1f77b4"/><path d="M1053 638.8H1092.2" stroke="#ff7f0e" stroke-width="2.1" fill="none"/><g font-size="18.5"><text x="1106.6" y="606.2">Raw Data</text><text x="1106.6" y="632.6">Butterworth Filtered Data</text><text x="1106.6" y="654">(N=6, Tc=3.3333 min, Type: low)</text></g></g>
</svg>
</body></html>
